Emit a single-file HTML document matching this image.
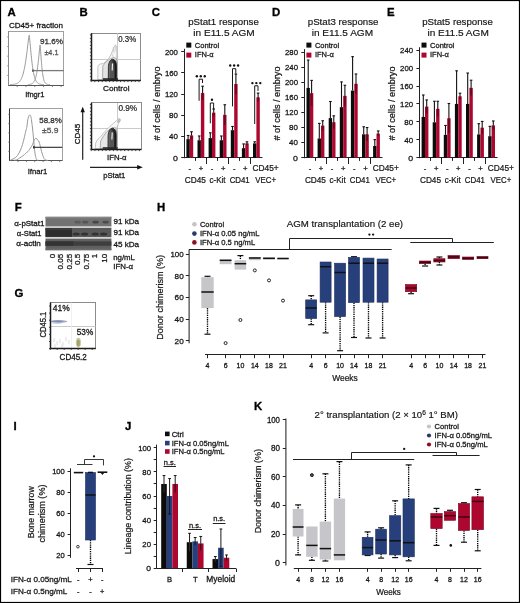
<!DOCTYPE html>
<html><head><meta charset="utf-8"><style>
html,body{margin:0;padding:0;background:#fff;width:520px;height:603px;overflow:hidden}
svg{display:block;font-family:"Liberation Sans", sans-serif;will-change:transform;filter:blur(0.3px)}
</style></head><body>
<svg width="520" height="603" viewBox="0 0 520 603">
<rect width="520" height="603" fill="#fff"/>
<text x="7.40" y="15.90" font-size="11.4" text-anchor="start" font-weight="bold" fill="#000" stroke="#000" stroke-width="0.32">A</text>
<text x="79.60" y="15.90" font-size="11.4" text-anchor="start" font-weight="bold" fill="#000" stroke="#000" stroke-width="0.32">B</text>
<text x="151.80" y="15.90" font-size="11.4" text-anchor="start" font-weight="bold" fill="#000" stroke="#000" stroke-width="0.32">C</text>
<text x="272.10" y="15.90" font-size="11.4" text-anchor="start" font-weight="bold" fill="#000" stroke="#000" stroke-width="0.32">D</text>
<text x="387.00" y="15.90" font-size="11.4" text-anchor="start" font-weight="bold" fill="#000" stroke="#000" stroke-width="0.32">E</text>
<text x="14.80" y="210.50" font-size="11.4" text-anchor="start" font-weight="bold" fill="#000" stroke="#000" stroke-width="0.32">F</text>
<text x="14.60" y="296.50" font-size="11.4" text-anchor="start" font-weight="bold" fill="#000" stroke="#000" stroke-width="0.32">G</text>
<text x="157.00" y="210.50" font-size="11.4" text-anchor="start" font-weight="bold" fill="#000" stroke="#000" stroke-width="0.32">H</text>
<text x="13.60" y="430.00" font-size="11.4" text-anchor="start" font-weight="bold" fill="#000" stroke="#000" stroke-width="0.32">I</text>
<text x="125.00" y="430.00" font-size="11.4" text-anchor="start" font-weight="bold" fill="#000" stroke="#000" stroke-width="0.32">J</text>
<text x="254.00" y="409.80" font-size="11.4" text-anchor="start" font-weight="bold" fill="#000" stroke="#000" stroke-width="0.32">K</text>
<text x="8.90" y="27.80" font-size="8.07" text-anchor="start" fill="#161616" stroke="#161616" stroke-width="0.28" textLength="54.09" lengthAdjust="spacingAndGlyphs">CD45+ fraction</text>
<rect x="8.50" y="31.50" width="55.00" height="54.00" fill="none" stroke="#a0a0a0" stroke-width="1"/>
<line x1="8.40" y1="85.50" x2="63.80" y2="85.50" stroke="#555" stroke-width="1"/>
<line x1="8.50" y1="31.20" x2="8.50" y2="85.00" stroke="#8a8a8a" stroke-width="1"/>
<line x1="7.20" y1="75.39" x2="8.50" y2="75.39" stroke="#777" stroke-width="0.8"/>
<line x1="7.20" y1="65.79" x2="8.50" y2="65.79" stroke="#777" stroke-width="0.8"/>
<line x1="7.20" y1="56.18" x2="8.50" y2="56.18" stroke="#777" stroke-width="0.8"/>
<line x1="7.20" y1="46.57" x2="8.50" y2="46.57" stroke="#777" stroke-width="0.8"/>
<line x1="7.20" y1="36.96" x2="8.50" y2="36.96" stroke="#777" stroke-width="0.8"/>
<line x1="17.19" y1="85.50" x2="17.19" y2="87.10" stroke="#666" stroke-width="0.8"/>
<line x1="25.99" y1="85.50" x2="25.99" y2="87.10" stroke="#666" stroke-width="0.8"/>
<line x1="34.78" y1="85.50" x2="34.78" y2="87.10" stroke="#666" stroke-width="0.8"/>
<line x1="43.57" y1="85.50" x2="43.57" y2="87.10" stroke="#666" stroke-width="0.8"/>
<line x1="52.37" y1="85.50" x2="52.37" y2="87.10" stroke="#666" stroke-width="0.8"/>
<line x1="61.16" y1="85.50" x2="61.16" y2="87.10" stroke="#666" stroke-width="0.8"/>
<path d="M10.00,84.54 L10.28,84.54 L10.57,84.53 L10.85,84.52 L11.13,84.51 L11.42,84.49 L11.70,84.48 L11.98,84.46 L12.27,84.44 L12.55,84.42 L12.83,84.40 L13.12,84.37 L13.40,84.34 L13.68,84.31 L13.97,84.27 L14.25,84.23 L14.53,84.18 L14.82,84.13 L15.10,84.07 L15.38,84.01 L15.67,83.93 L15.95,83.85 L16.23,83.76 L16.52,83.65 L16.80,83.54 L17.08,83.41 L17.37,83.27 L17.65,83.11 L17.93,82.94 L18.22,82.74 L18.50,82.53 L18.78,82.29 L19.07,82.02 L19.35,81.73 L19.63,81.41 L19.92,81.06 L20.20,80.67 L20.48,80.24 L20.77,79.77 L21.05,79.26 L21.33,78.70 L21.62,78.08 L21.90,77.41 L22.18,76.68 L22.47,75.88 L22.75,75.02 L23.03,74.08 L23.32,73.07 L23.60,71.97 L23.88,70.79 L24.17,69.53 L24.45,68.17 L24.73,66.71 L25.02,65.16 L25.30,63.50 L25.58,61.75 L25.87,59.90 L26.15,57.94 L26.43,55.90 L26.72,53.77 L27.00,51.56 L27.28,49.28 L27.57,46.95 L27.85,44.61 L28.13,42.27 L28.42,39.99 L28.70,37.85 L28.98,35.98 L29.27,35.31 L29.55,37.61 L29.83,40.48 L30.12,43.55 L30.40,46.68 L30.68,49.77 L30.97,52.78 L31.25,55.65 L31.53,58.37 L31.82,60.93 L32.10,63.30 L32.38,65.50 L32.67,67.52 L32.95,69.37 L33.23,71.06 L33.52,72.58 L33.80,73.97 L34.08,75.21 L34.37,76.33 L34.65,77.33 L34.93,78.22 L35.22,79.01 L35.50,79.71 L35.78,80.34 L36.07,80.89 L36.35,81.37 L36.63,81.80 L36.92,82.17 L37.20,82.50 L37.48,82.79 L37.77,83.04 L38.05,83.25 L38.33,83.44 L38.62,83.60 L38.90,83.75 L39.18,83.87 L39.47,83.97 L39.75,84.07 L40.03,84.14 L40.32,84.21 L40.60,84.27 L40.88,84.32 L41.17,84.36 L41.45,84.40 L41.73,84.43 L42.02,84.45 L42.30,84.48 L42.58,84.50 L42.87,84.51 L43.15,84.53 L43.43,84.54 L43.72,84.55 L44.00,84.56" fill="none" stroke="#9a9a9a" stroke-width="1.0"/>
<path d="M28.00,84.53 L28.18,84.53 L28.37,84.52 L28.55,84.50 L28.73,84.49 L28.92,84.48 L29.10,84.46 L29.28,84.44 L29.47,84.42 L29.65,84.40 L29.83,84.38 L30.02,84.35 L30.20,84.32 L30.38,84.28 L30.57,84.24 L30.75,84.19 L30.93,84.14 L31.12,84.09 L31.30,84.03 L31.48,83.96 L31.67,83.88 L31.85,83.79 L32.03,83.70 L32.22,83.59 L32.40,83.47 L32.58,83.34 L32.77,83.20 L32.95,83.04 L33.13,82.86 L33.32,82.66 L33.50,82.45 L33.68,82.21 L33.87,81.95 L34.05,81.66 L34.23,81.35 L34.42,81.00 L34.60,80.62 L34.78,80.21 L34.97,79.76 L35.15,79.26 L35.33,78.72 L35.52,78.14 L35.70,77.50 L35.88,76.82 L36.07,76.07 L36.25,75.27 L36.43,74.40 L36.62,73.47 L36.80,72.47 L36.98,71.39 L37.17,70.25 L37.35,69.03 L37.53,67.73 L37.72,66.35 L37.90,64.90 L38.08,63.37 L38.27,61.77 L38.45,60.11 L38.63,58.38 L38.82,56.60 L39.00,54.78 L39.18,52.94 L39.37,51.10 L39.55,49.31 L39.73,47.60 L39.92,46.08 L40.10,45.00 L40.28,46.63 L40.47,48.89 L40.65,51.36 L40.83,53.90 L41.02,56.43 L41.20,58.88 L41.38,61.23 L41.57,63.45 L41.75,65.53 L41.93,67.47 L42.12,69.27 L42.30,70.91 L42.48,72.42 L42.67,73.79 L42.85,75.03 L43.03,76.15 L43.22,77.15 L43.40,78.05 L43.58,78.86 L43.77,79.57 L43.95,80.21 L44.13,80.77 L44.32,81.27 L44.50,81.70 L44.68,82.09 L44.87,82.43 L45.05,82.72 L45.23,82.98 L45.42,83.20 L45.60,83.40 L45.78,83.57 L45.97,83.72 L46.15,83.84 L46.33,83.95 L46.52,84.05 L46.70,84.13 L46.88,84.20 L47.07,84.26 L47.25,84.31 L47.43,84.35 L47.62,84.39 L47.80,84.42 L47.98,84.45 L48.17,84.47 L48.35,84.49 L48.53,84.51 L48.72,84.52 L48.90,84.54 L49.08,84.55 L49.27,84.56 L49.45,84.56 L49.63,84.57 L49.82,84.57 L50.00,84.58" fill="none" stroke="#9a9a9a" stroke-width="1.0"/>
<line x1="32.60" y1="70.60" x2="63.80" y2="70.60" stroke="#7a7a7a" stroke-width="1.3"/>
<rect x="32.00" y="69.40" width="1.80" height="2.40" fill="#666"/>
<text x="63.00" y="44.40" font-size="8.07" text-anchor="end" fill="#333" stroke="#333" stroke-width="0.28" textLength="23.09" lengthAdjust="spacingAndGlyphs">91.6%</text>
<text x="58.40" y="54.80" font-size="8.07" text-anchor="end" fill="#555" stroke="#555" stroke-width="0.28" textLength="13.99" lengthAdjust="spacingAndGlyphs">±4.1</text>
<text x="25.20" y="96.50" font-size="8.07" text-anchor="start" fill="#161616" stroke="#161616" stroke-width="0.28" textLength="19.29" lengthAdjust="spacingAndGlyphs">Ifngr1</text>
<rect x="9.50" y="108.50" width="53.00" height="52.00" fill="none" stroke="#a0a0a0" stroke-width="1"/>
<line x1="9.80" y1="160.50" x2="62.20" y2="160.50" stroke="#555" stroke-width="1"/>
<line x1="9.50" y1="108.80" x2="9.50" y2="160.70" stroke="#333" stroke-width="1"/>
<line x1="8.20" y1="151.43" x2="9.50" y2="151.43" stroke="#777" stroke-width="0.8"/>
<line x1="8.20" y1="142.16" x2="9.50" y2="142.16" stroke="#777" stroke-width="0.8"/>
<line x1="8.20" y1="132.90" x2="9.50" y2="132.90" stroke="#777" stroke-width="0.8"/>
<line x1="8.20" y1="123.63" x2="9.50" y2="123.63" stroke="#777" stroke-width="0.8"/>
<line x1="8.20" y1="114.36" x2="9.50" y2="114.36" stroke="#777" stroke-width="0.8"/>
<line x1="18.12" y1="160.50" x2="18.12" y2="162.10" stroke="#666" stroke-width="0.8"/>
<line x1="26.43" y1="160.50" x2="26.43" y2="162.10" stroke="#666" stroke-width="0.8"/>
<line x1="34.75" y1="160.50" x2="34.75" y2="162.10" stroke="#666" stroke-width="0.8"/>
<line x1="43.07" y1="160.50" x2="43.07" y2="162.10" stroke="#666" stroke-width="0.8"/>
<line x1="51.39" y1="160.50" x2="51.39" y2="162.10" stroke="#666" stroke-width="0.8"/>
<line x1="59.70" y1="160.50" x2="59.70" y2="162.10" stroke="#666" stroke-width="0.8"/>
<path d="M10.30,160.20 C10.92,159.92 12.80,159.28 14.00,158.50 C15.20,157.72 16.42,156.92 17.50,155.50 C18.58,154.08 19.67,151.83 20.50,150.00 C21.33,148.17 21.88,146.50 22.50,144.50 C23.12,142.50 23.65,140.25 24.20,138.00 C24.75,135.75 25.37,132.75 25.80,131.00 C26.23,129.25 26.50,129.17 26.80,127.50 C27.10,125.83 27.30,122.83 27.60,121.00 C27.90,119.17 28.25,117.52 28.60,116.50 C28.95,115.48 29.33,114.93 29.70,114.90 C30.07,114.87 30.48,115.28 30.80,116.30 C31.12,117.32 31.32,119.05 31.60,121.00 C31.88,122.95 32.20,125.33 32.50,128.00 C32.80,130.67 33.10,133.83 33.40,137.00 C33.70,140.17 33.98,144.00 34.30,147.00 C34.62,150.00 34.92,152.90 35.30,155.00 C35.68,157.10 36.07,158.72 36.60,159.60 C37.13,160.48 38.18,160.18 38.50,160.30" fill="none" stroke="#9a9a9a" stroke-width="1.0"/>
<path d="M14.00,160.30 C14.50,160.22 16.08,160.18 17.00,159.80 C17.92,159.42 18.67,158.55 19.50,158.00 C20.33,157.45 21.17,157.08 22.00,156.50 C22.83,155.92 23.75,155.17 24.50,154.50 C25.25,153.83 25.92,153.00 26.50,152.50 C27.08,152.00 27.50,152.00 28.00,151.50 C28.50,151.00 29.00,150.25 29.50,149.50 C30.00,148.75 30.50,147.78 31.00,147.00 C31.50,146.22 32.03,145.80 32.50,144.80 C32.97,143.80 33.38,142.00 33.80,141.00 C34.22,140.00 34.55,139.23 35.00,138.80 C35.45,138.37 36.07,138.17 36.50,138.40 C36.93,138.63 37.25,139.80 37.60,140.20 C37.95,140.60 38.27,140.25 38.60,140.80 C38.93,141.35 39.27,142.38 39.60,143.50 C39.93,144.62 40.27,146.17 40.60,147.50 C40.93,148.83 41.23,150.17 41.60,151.50 C41.97,152.83 42.37,154.28 42.80,155.50 C43.23,156.72 43.67,158.02 44.20,158.80 C44.73,159.58 45.37,159.93 46.00,160.20 C46.63,160.47 47.67,160.37 48.00,160.40" fill="none" stroke="#9a9a9a" stroke-width="1.0"/>
<line x1="33.50" y1="147.30" x2="62.20" y2="147.30" stroke="#2a2a2a" stroke-width="1.1"/>
<rect x="33.00" y="146.10" width="1.60" height="2.40" fill="#333"/>
<text x="61.80" y="122.80" font-size="8.07" text-anchor="end" fill="#333" stroke="#333" stroke-width="0.28" textLength="22.59" lengthAdjust="spacingAndGlyphs">58.8%</text>
<text x="58.40" y="133.10" font-size="8.07" text-anchor="end" fill="#555" stroke="#555" stroke-width="0.28" textLength="16.39" lengthAdjust="spacingAndGlyphs">±5.9</text>
<text x="27.70" y="174.00" font-size="8.07" text-anchor="start" fill="#161616" stroke="#161616" stroke-width="0.28" textLength="19.69" lengthAdjust="spacingAndGlyphs">Ifnar1</text>
<rect x="91.50" y="33.50" width="49.00" height="47.00" fill="none" stroke="#8c8c8c" stroke-width="1"/>
<line x1="117.50" y1="33.20" x2="117.50" y2="80.10" stroke="#c4c4c4" stroke-width="0.9"/>
<line x1="91.20" y1="59.50" x2="140.80" y2="59.50" stroke="#c4c4c4" stroke-width="0.9"/>
<defs><filter id="fb" x="-20%" y="-20%" width="140%" height="140%"><feGaussianBlur stdDeviation="0.45"/></filter><linearGradient id="core" x1="0" x2="1"><stop offset="0" stop-color="#7a7a7a"/><stop offset="0.5" stop-color="#3a3a3a"/><stop offset="1" stop-color="#0e0e0e"/></linearGradient></defs>
<g filter="url(#fb)" transform="translate(0.00,0.00)"><path d="M97.8,79.6 L97.9,66 L99.5,64.2 L103.5,63.4 L106.5,60.8 L109,58 L111.5,53.5 L113.3,48.5 L115.2,45.2 L116.6,46.5 L116.9,53 L116.7,60 L117.6,68 L117.4,79.6 Z" fill="#f7f7f7" stroke="#a8a8a8" stroke-width="0.65"/><path d="M102.6,79.6 L102.8,66 L104.8,63.2 L107.5,60.6 L110.5,58.6 L113.5,57.6 L116.2,58.4 L117.2,63 L117.3,79.6 Z" fill="#e4e4e4" stroke="#8a8a8a" stroke-width="0.65"/><path d="M113.2,47 L114.2,53 M115.6,44.5 L115.1,51 M111.8,53.5 L113.2,57" stroke="#bbb" stroke-width="0.6" fill="none"/><path d="M108.3,79.6 L108.4,66.5 Q108.8,59.8 112.6,59.3 Q116.2,59.5 116.5,65.5 L116.4,79.6 Z" fill="url(#core)" stroke="#222" stroke-width="0.9"/><path d="M110.2,78.5 L110.3,67 Q110.6,62.6 112.6,62.3 Q114.3,62.6 114.5,67 L114.4,78.5 Z" fill="#555"/><path d="M112.5,63.5 L112.2,70.5" stroke="#f2f2f2" stroke-width="1.1" fill="none"/><rect x="103" y="78.2" width="15" height="1.6" fill="#2a2a2a"/></g>
<line x1="91.50" y1="33.20" x2="91.50" y2="80.60" stroke="#1c1c1c" stroke-width="1.5"/>
<line x1="91.20" y1="80.50" x2="140.80" y2="80.50" stroke="#1c1c1c" stroke-width="1.5"/>
<line x1="89.90" y1="80.10" x2="91.50" y2="80.10" stroke="#333" stroke-width="0.9"/>
<line x1="89.90" y1="76.63" x2="91.50" y2="76.63" stroke="#333" stroke-width="0.9"/>
<line x1="89.90" y1="73.15" x2="91.50" y2="73.15" stroke="#333" stroke-width="0.9"/>
<line x1="89.90" y1="69.68" x2="91.50" y2="69.68" stroke="#333" stroke-width="0.9"/>
<line x1="89.90" y1="66.20" x2="91.50" y2="66.20" stroke="#333" stroke-width="0.9"/>
<line x1="89.90" y1="62.73" x2="91.50" y2="62.73" stroke="#333" stroke-width="0.9"/>
<line x1="89.90" y1="59.26" x2="91.50" y2="59.26" stroke="#333" stroke-width="0.9"/>
<line x1="89.90" y1="55.78" x2="91.50" y2="55.78" stroke="#333" stroke-width="0.9"/>
<line x1="89.90" y1="52.31" x2="91.50" y2="52.31" stroke="#333" stroke-width="0.9"/>
<line x1="89.90" y1="48.83" x2="91.50" y2="48.83" stroke="#333" stroke-width="0.9"/>
<line x1="89.90" y1="45.36" x2="91.50" y2="45.36" stroke="#333" stroke-width="0.9"/>
<line x1="89.90" y1="41.89" x2="91.50" y2="41.89" stroke="#333" stroke-width="0.9"/>
<line x1="89.90" y1="38.41" x2="91.50" y2="38.41" stroke="#333" stroke-width="0.9"/>
<line x1="89.90" y1="34.94" x2="91.50" y2="34.94" stroke="#333" stroke-width="0.9"/>
<line x1="91.20" y1="80.50" x2="91.20" y2="82.10" stroke="#333" stroke-width="0.9"/>
<line x1="94.87" y1="80.50" x2="94.87" y2="82.10" stroke="#333" stroke-width="0.9"/>
<line x1="98.55" y1="80.50" x2="98.55" y2="82.10" stroke="#333" stroke-width="0.9"/>
<line x1="102.22" y1="80.50" x2="102.22" y2="82.10" stroke="#333" stroke-width="0.9"/>
<line x1="105.90" y1="80.50" x2="105.90" y2="82.10" stroke="#333" stroke-width="0.9"/>
<line x1="109.57" y1="80.50" x2="109.57" y2="82.10" stroke="#333" stroke-width="0.9"/>
<line x1="113.24" y1="80.50" x2="113.24" y2="82.10" stroke="#333" stroke-width="0.9"/>
<line x1="116.92" y1="80.50" x2="116.92" y2="82.10" stroke="#333" stroke-width="0.9"/>
<line x1="120.59" y1="80.50" x2="120.59" y2="82.10" stroke="#333" stroke-width="0.9"/>
<line x1="124.27" y1="80.50" x2="124.27" y2="82.10" stroke="#333" stroke-width="0.9"/>
<line x1="127.94" y1="80.50" x2="127.94" y2="82.10" stroke="#333" stroke-width="0.9"/>
<line x1="131.61" y1="80.50" x2="131.61" y2="82.10" stroke="#333" stroke-width="0.9"/>
<line x1="135.29" y1="80.50" x2="135.29" y2="82.10" stroke="#333" stroke-width="0.9"/>
<line x1="138.96" y1="80.50" x2="138.96" y2="82.10" stroke="#333" stroke-width="0.9"/>
<text x="118.20" y="41.60" font-size="8.61" text-anchor="start" fill="#1e1e1e" stroke="#1e1e1e" stroke-width="0.22" textLength="17.95" lengthAdjust="spacingAndGlyphs">0.3%</text>
<text x="103.00" y="90.80" font-size="8.07" text-anchor="start" fill="#161616" stroke="#161616" stroke-width="0.28" textLength="26.49" lengthAdjust="spacingAndGlyphs">Control</text>
<rect x="91.50" y="102.50" width="50.00" height="47.00" fill="none" stroke="#8c8c8c" stroke-width="1"/>
<line x1="117.50" y1="102.80" x2="117.50" y2="149.10" stroke="#c4c4c4" stroke-width="0.9"/>
<line x1="91.20" y1="128.50" x2="141.30" y2="128.50" stroke="#c4c4c4" stroke-width="0.9"/>
<g filter="url(#fb)" transform="translate(-0.30,69.00)"><path d="M95.5,79.6 L96,74 L98,70.5 L101,67.5 L104,64 L107,60.5 L110,57.5 L113.5,54.5 L117,51.5 L119.5,49.5 L120.5,51 L118.5,55 L117.2,59 L117.4,67 L117.2,79.6 Z" fill="#f7f7f7" stroke="#a8a8a8" stroke-width="0.65"/><path d="M100.5,79.6 L101,72 L103.5,67.5 L106.5,63.5 L109.5,60.5 L113,58.6 L116,58.8 L117.1,64 L117.1,79.6 Z" fill="#e6e6e6" stroke="#8a8a8a" stroke-width="0.65"/><ellipse cx="119.2" cy="51.8" rx="1.5" ry="2.4" fill="#bdbdbd" transform="rotate(35 119.2 51.8)"/><path d="M108.3,79.6 L108.4,66.5 Q108.8,59.8 112.6,59.3 Q116.2,59.5 116.5,65.5 L116.4,79.6 Z" fill="url(#core)" stroke="#222" stroke-width="0.9"/><path d="M110.2,78.5 L110.3,67 Q110.6,62.6 112.6,62.3 Q114.3,62.6 114.5,67 L114.4,78.5 Z" fill="#555"/><path d="M112.5,63.5 L112.2,70.5" stroke="#f2f2f2" stroke-width="1.1" fill="none"/><rect x="103" y="78.2" width="15" height="1.6" fill="#2a2a2a"/></g>
<line x1="91.50" y1="102.80" x2="91.50" y2="149.60" stroke="#1c1c1c" stroke-width="1.5"/>
<line x1="91.20" y1="149.50" x2="141.30" y2="149.50" stroke="#1c1c1c" stroke-width="1.5"/>
<line x1="89.90" y1="149.10" x2="91.50" y2="149.10" stroke="#333" stroke-width="0.9"/>
<line x1="89.90" y1="145.67" x2="91.50" y2="145.67" stroke="#333" stroke-width="0.9"/>
<line x1="89.90" y1="142.24" x2="91.50" y2="142.24" stroke="#333" stroke-width="0.9"/>
<line x1="89.90" y1="138.81" x2="91.50" y2="138.81" stroke="#333" stroke-width="0.9"/>
<line x1="89.90" y1="135.38" x2="91.50" y2="135.38" stroke="#333" stroke-width="0.9"/>
<line x1="89.90" y1="131.95" x2="91.50" y2="131.95" stroke="#333" stroke-width="0.9"/>
<line x1="89.90" y1="128.52" x2="91.50" y2="128.52" stroke="#333" stroke-width="0.9"/>
<line x1="89.90" y1="125.09" x2="91.50" y2="125.09" stroke="#333" stroke-width="0.9"/>
<line x1="89.90" y1="121.66" x2="91.50" y2="121.66" stroke="#333" stroke-width="0.9"/>
<line x1="89.90" y1="118.23" x2="91.50" y2="118.23" stroke="#333" stroke-width="0.9"/>
<line x1="89.90" y1="114.80" x2="91.50" y2="114.80" stroke="#333" stroke-width="0.9"/>
<line x1="89.90" y1="111.37" x2="91.50" y2="111.37" stroke="#333" stroke-width="0.9"/>
<line x1="89.90" y1="107.94" x2="91.50" y2="107.94" stroke="#333" stroke-width="0.9"/>
<line x1="89.90" y1="104.51" x2="91.50" y2="104.51" stroke="#333" stroke-width="0.9"/>
<line x1="91.20" y1="149.50" x2="91.20" y2="151.10" stroke="#333" stroke-width="0.9"/>
<line x1="94.91" y1="149.50" x2="94.91" y2="151.10" stroke="#333" stroke-width="0.9"/>
<line x1="98.62" y1="149.50" x2="98.62" y2="151.10" stroke="#333" stroke-width="0.9"/>
<line x1="102.33" y1="149.50" x2="102.33" y2="151.10" stroke="#333" stroke-width="0.9"/>
<line x1="106.04" y1="149.50" x2="106.04" y2="151.10" stroke="#333" stroke-width="0.9"/>
<line x1="109.76" y1="149.50" x2="109.76" y2="151.10" stroke="#333" stroke-width="0.9"/>
<line x1="113.47" y1="149.50" x2="113.47" y2="151.10" stroke="#333" stroke-width="0.9"/>
<line x1="117.18" y1="149.50" x2="117.18" y2="151.10" stroke="#333" stroke-width="0.9"/>
<line x1="120.89" y1="149.50" x2="120.89" y2="151.10" stroke="#333" stroke-width="0.9"/>
<line x1="124.60" y1="149.50" x2="124.60" y2="151.10" stroke="#333" stroke-width="0.9"/>
<line x1="128.31" y1="149.50" x2="128.31" y2="151.10" stroke="#333" stroke-width="0.9"/>
<line x1="132.02" y1="149.50" x2="132.02" y2="151.10" stroke="#333" stroke-width="0.9"/>
<line x1="135.73" y1="149.50" x2="135.73" y2="151.10" stroke="#333" stroke-width="0.9"/>
<line x1="139.44" y1="149.50" x2="139.44" y2="151.10" stroke="#333" stroke-width="0.9"/>
<text x="118.40" y="111.20" font-size="8.61" text-anchor="start" fill="#1e1e1e" stroke="#1e1e1e" stroke-width="0.22" textLength="18.75" lengthAdjust="spacingAndGlyphs">0.9%</text>
<text x="107.00" y="160.40" font-size="8.07" text-anchor="start" fill="#161616" stroke="#161616" stroke-width="0.28" textLength="19.59" lengthAdjust="spacingAndGlyphs">IFN-α</text>
<line x1="82.70" y1="112.00" x2="82.70" y2="159.80" stroke="#222" stroke-width="1.2"/>
<path d="M82.7,106.8 L80.5,112.3 L84.9,112.3 Z" fill="#111" stroke="none" stroke-width="1"/>
<text x="80.00" y="134.00" font-size="8.07" text-anchor="middle" fill="#161616" stroke="#161616" stroke-width="0.28" textLength="20.59" lengthAdjust="spacingAndGlyphs" transform="rotate(-90 80.00 134.00)">CD45</text>
<line x1="90.00" y1="167.30" x2="138.00" y2="167.30" stroke="#222" stroke-width="1.2"/>
<path d="M142.8,167.3 L137.2,165.1 L137.2,169.5 Z" fill="#111" stroke="none" stroke-width="1"/>
<text x="103.20" y="177.50" font-size="8.07" text-anchor="start" fill="#161616" stroke="#161616" stroke-width="0.28" textLength="22.19" lengthAdjust="spacingAndGlyphs">pStat1</text>
<text x="223.50" y="24.70" font-size="9.88" text-anchor="middle" fill="#161616" stroke="#161616" stroke-width="0.18" textLength="70.69" lengthAdjust="spacingAndGlyphs">pStat1 response</text>
<text x="224.00" y="36.00" font-size="9.88" text-anchor="middle" fill="#161616" stroke="#161616" stroke-width="0.18" textLength="61.39" lengthAdjust="spacingAndGlyphs">in E11.5 AGM</text>
<rect x="186.30" y="42.60" width="5.00" height="5.00" fill="#0c0c0c"/>
<text x="194.80" y="47.60" font-size="7.96" text-anchor="start" fill="#161616" stroke="#161616" stroke-width="0.28" textLength="24.28" lengthAdjust="spacingAndGlyphs">Control</text>
<rect x="186.30" y="52.60" width="5.00" height="5.00" fill="#ad062f"/>
<text x="194.80" y="56.80" font-size="7.96" text-anchor="start" fill="#161616" stroke="#161616" stroke-width="0.28" textLength="18.88" lengthAdjust="spacingAndGlyphs">IFN-α</text>
<line x1="184.50" y1="48.80" x2="184.50" y2="158.20" stroke="#222" stroke-width="1"/>
<line x1="181.20" y1="157.50" x2="184.40" y2="157.50" stroke="#222" stroke-width="1"/>
<text x="177.90" y="160.50" font-size="7.96" text-anchor="end" fill="#161616" stroke="#161616" stroke-width="0.28" textLength="4.88" lengthAdjust="spacingAndGlyphs">0</text>
<line x1="181.20" y1="136.50" x2="184.40" y2="136.50" stroke="#222" stroke-width="1"/>
<text x="177.90" y="139.32" font-size="7.96" text-anchor="end" fill="#161616" stroke="#161616" stroke-width="0.28" textLength="8.88" lengthAdjust="spacingAndGlyphs">40</text>
<line x1="181.20" y1="115.50" x2="184.40" y2="115.50" stroke="#222" stroke-width="1"/>
<text x="177.90" y="118.14" font-size="7.96" text-anchor="end" fill="#161616" stroke="#161616" stroke-width="0.28" textLength="8.88" lengthAdjust="spacingAndGlyphs">80</text>
<line x1="181.20" y1="94.50" x2="184.40" y2="94.50" stroke="#222" stroke-width="1"/>
<text x="177.90" y="96.96" font-size="7.96" text-anchor="end" fill="#161616" stroke="#161616" stroke-width="0.28" textLength="12.98" lengthAdjust="spacingAndGlyphs">120</text>
<line x1="181.20" y1="72.50" x2="184.40" y2="72.50" stroke="#222" stroke-width="1"/>
<text x="177.90" y="75.78" font-size="7.96" text-anchor="end" fill="#161616" stroke="#161616" stroke-width="0.28" textLength="12.98" lengthAdjust="spacingAndGlyphs">160</text>
<line x1="181.20" y1="51.50" x2="184.40" y2="51.50" stroke="#222" stroke-width="1"/>
<text x="177.90" y="54.60" font-size="7.96" text-anchor="end" fill="#161616" stroke="#161616" stroke-width="0.28" textLength="12.98" lengthAdjust="spacingAndGlyphs">200</text>
<text x="159.50" y="103.50" font-size="9.26" text-anchor="middle" fill="#161616" stroke="#161616" stroke-width="0.22" textLength="74.02" lengthAdjust="spacingAndGlyphs" transform="rotate(-90 159.50 103.50)"># of cells / embryo</text>
<line x1="184.40" y1="157.50" x2="262.40" y2="157.50" stroke="#222" stroke-width="1"/>
<line x1="195.50" y1="157.70" x2="195.50" y2="160.90" stroke="#222" stroke-width="1"/>
<line x1="206.50" y1="157.70" x2="206.50" y2="164.00" stroke="#222" stroke-width="1"/>
<line x1="217.50" y1="157.70" x2="217.50" y2="160.90" stroke="#222" stroke-width="1"/>
<line x1="228.50" y1="157.70" x2="228.50" y2="164.00" stroke="#222" stroke-width="1"/>
<line x1="239.50" y1="157.70" x2="239.50" y2="160.90" stroke="#222" stroke-width="1"/>
<line x1="250.50" y1="157.70" x2="250.50" y2="164.00" stroke="#222" stroke-width="1"/>
<rect x="186.40" y="139.17" width="3.40" height="18.53" fill="#0c0c0c"/>
<rect x="189.80" y="135.46" width="3.40" height="22.24" fill="#ad062f"/>
<line x1="188.10" y1="135.46" x2="188.10" y2="139.17" stroke="#111" stroke-width="1.1"/>
<line x1="186.80" y1="135.46" x2="189.40" y2="135.46" stroke="#111" stroke-width="1.1"/>
<line x1="191.50" y1="131.75" x2="191.50" y2="135.46" stroke="#111" stroke-width="1.1"/>
<line x1="190.20" y1="131.75" x2="192.80" y2="131.75" stroke="#111" stroke-width="1.1"/>
<line x1="191.50" y1="135.46" x2="191.50" y2="139.17" stroke="#6a0820" stroke-width="1.7"/>
<rect x="197.50" y="140.23" width="3.40" height="17.47" fill="#0c0c0c"/>
<rect x="200.90" y="93.10" width="3.40" height="64.60" fill="#ad062f"/>
<line x1="199.20" y1="135.99" x2="199.20" y2="140.23" stroke="#111" stroke-width="1.1"/>
<line x1="197.90" y1="135.99" x2="200.50" y2="135.99" stroke="#111" stroke-width="1.1"/>
<line x1="202.60" y1="86.22" x2="202.60" y2="93.10" stroke="#111" stroke-width="1.1"/>
<line x1="201.30" y1="86.22" x2="203.90" y2="86.22" stroke="#111" stroke-width="1.1"/>
<line x1="202.60" y1="93.10" x2="202.60" y2="99.98" stroke="#6a0820" stroke-width="1.7"/>
<rect x="208.60" y="138.11" width="3.40" height="19.59" fill="#0c0c0c"/>
<rect x="212.00" y="112.69" width="3.40" height="45.01" fill="#ad062f"/>
<line x1="210.30" y1="132.81" x2="210.30" y2="138.11" stroke="#111" stroke-width="1.1"/>
<line x1="209.00" y1="132.81" x2="211.60" y2="132.81" stroke="#111" stroke-width="1.1"/>
<line x1="213.70" y1="108.99" x2="213.70" y2="112.69" stroke="#111" stroke-width="1.1"/>
<line x1="212.40" y1="108.99" x2="215.00" y2="108.99" stroke="#111" stroke-width="1.1"/>
<line x1="213.70" y1="112.69" x2="213.70" y2="116.40" stroke="#6a0820" stroke-width="1.7"/>
<rect x="219.70" y="140.23" width="3.40" height="17.47" fill="#0c0c0c"/>
<rect x="223.10" y="114.81" width="3.40" height="42.89" fill="#ad062f"/>
<line x1="221.40" y1="135.99" x2="221.40" y2="140.23" stroke="#111" stroke-width="1.1"/>
<line x1="220.10" y1="135.99" x2="222.70" y2="135.99" stroke="#111" stroke-width="1.1"/>
<line x1="224.80" y1="104.75" x2="224.80" y2="114.81" stroke="#111" stroke-width="1.1"/>
<line x1="223.50" y1="104.75" x2="226.10" y2="104.75" stroke="#111" stroke-width="1.1"/>
<line x1="224.80" y1="114.81" x2="224.80" y2="124.87" stroke="#6a0820" stroke-width="1.7"/>
<rect x="230.80" y="130.17" width="3.40" height="27.53" fill="#0c0c0c"/>
<rect x="234.20" y="84.10" width="3.40" height="73.60" fill="#ad062f"/>
<line x1="232.50" y1="126.46" x2="232.50" y2="130.17" stroke="#111" stroke-width="1.1"/>
<line x1="231.20" y1="126.46" x2="233.80" y2="126.46" stroke="#111" stroke-width="1.1"/>
<line x1="235.90" y1="74.04" x2="235.90" y2="84.10" stroke="#111" stroke-width="1.1"/>
<line x1="234.60" y1="74.04" x2="237.20" y2="74.04" stroke="#111" stroke-width="1.1"/>
<line x1="235.90" y1="84.10" x2="235.90" y2="94.16" stroke="#6a0820" stroke-width="1.7"/>
<rect x="241.90" y="148.17" width="3.40" height="9.53" fill="#0c0c0c"/>
<rect x="245.30" y="143.40" width="3.40" height="14.30" fill="#ad062f"/>
<line x1="243.60" y1="143.93" x2="243.60" y2="148.17" stroke="#111" stroke-width="1.1"/>
<line x1="242.30" y1="143.93" x2="244.90" y2="143.93" stroke="#111" stroke-width="1.1"/>
<line x1="247.00" y1="141.81" x2="247.00" y2="143.40" stroke="#111" stroke-width="1.1"/>
<line x1="245.70" y1="141.81" x2="248.30" y2="141.81" stroke="#111" stroke-width="1.1"/>
<line x1="247.00" y1="143.40" x2="247.00" y2="144.99" stroke="#6a0820" stroke-width="1.7"/>
<rect x="253.00" y="143.40" width="3.40" height="14.30" fill="#0c0c0c"/>
<rect x="256.40" y="97.34" width="3.40" height="60.36" fill="#ad062f"/>
<line x1="254.70" y1="141.81" x2="254.70" y2="143.40" stroke="#111" stroke-width="1.1"/>
<line x1="253.40" y1="141.81" x2="256.00" y2="141.81" stroke="#111" stroke-width="1.1"/>
<line x1="258.10" y1="93.10" x2="258.10" y2="97.34" stroke="#111" stroke-width="1.1"/>
<line x1="256.80" y1="93.10" x2="259.40" y2="93.10" stroke="#111" stroke-width="1.1"/>
<line x1="258.10" y1="97.34" x2="258.10" y2="101.57" stroke="#6a0820" stroke-width="1.7"/>
<text x="189.80" y="171.40" font-size="7.6" text-anchor="middle" fill="#161616" stroke="#161616" stroke-width="0.28">-</text>
<text x="200.90" y="171.40" font-size="7.6" text-anchor="middle" fill="#161616" stroke="#161616" stroke-width="0.28">+</text>
<text x="212.00" y="171.40" font-size="7.6" text-anchor="middle" fill="#161616" stroke="#161616" stroke-width="0.28">-</text>
<text x="223.10" y="171.40" font-size="7.6" text-anchor="middle" fill="#161616" stroke="#161616" stroke-width="0.28">+</text>
<text x="234.20" y="171.40" font-size="7.6" text-anchor="middle" fill="#161616" stroke="#161616" stroke-width="0.28">-</text>
<text x="245.30" y="171.40" font-size="7.6" text-anchor="middle" fill="#161616" stroke="#161616" stroke-width="0.28">+</text>
<text x="252.60" y="171.00" font-size="8.5" text-anchor="start" fill="#161616" stroke="#161616" stroke-width="0.22" textLength="26.13" lengthAdjust="spacingAndGlyphs">CD45+</text>
<text x="195.30" y="183.00" font-size="8.5" text-anchor="middle" fill="#161616" stroke="#161616" stroke-width="0.22" textLength="21.04" lengthAdjust="spacingAndGlyphs">CD45</text>
<text x="217.50" y="183.00" font-size="8.5" text-anchor="middle" fill="#161616" stroke="#161616" stroke-width="0.22" textLength="16.04" lengthAdjust="spacingAndGlyphs">c-Kit</text>
<text x="239.70" y="183.00" font-size="8.5" text-anchor="middle" fill="#161616" stroke="#161616" stroke-width="0.22" textLength="20.13" lengthAdjust="spacingAndGlyphs">CD41</text>
<text x="265.70" y="183.00" font-size="8.5" text-anchor="middle" fill="#161616" stroke="#161616" stroke-width="0.22" textLength="20.73" lengthAdjust="spacingAndGlyphs">VEC+</text>
<path d="M199.10,100.80 L199.10,79.20 L202.50,79.20 L202.50,83.00" fill="none" stroke="#1a1a1a" stroke-width="1.0"/>
<circle cx="196.85" cy="76.30" r="1.20" fill="#111" stroke="none" stroke-width="1"/>
<circle cx="200.80" cy="76.30" r="1.20" fill="#111" stroke="none" stroke-width="1"/>
<circle cx="204.75" cy="76.30" r="1.20" fill="#111" stroke="none" stroke-width="1"/>
<path d="M210.30,123.30 L210.30,103.00 L213.60,103.00 L213.60,109.00" fill="none" stroke="#1a1a1a" stroke-width="1.0"/>
<circle cx="211.95" cy="99.80" r="1.20" fill="#111" stroke="none" stroke-width="1"/>
<path d="M232.50,106.40 L232.50,68.70 L235.80,68.70 L235.80,73.50" fill="none" stroke="#1a1a1a" stroke-width="1.0"/>
<circle cx="230.20" cy="65.50" r="1.20" fill="#111" stroke="none" stroke-width="1"/>
<circle cx="234.15" cy="65.50" r="1.20" fill="#111" stroke="none" stroke-width="1"/>
<circle cx="238.10" cy="65.50" r="1.20" fill="#111" stroke="none" stroke-width="1"/>
<path d="M254.70,124.00 L254.70,85.80 L258.00,85.80 L258.00,91.00" fill="none" stroke="#1a1a1a" stroke-width="1.0"/>
<circle cx="252.40" cy="83.10" r="1.20" fill="#111" stroke="none" stroke-width="1"/>
<circle cx="256.35" cy="83.10" r="1.20" fill="#111" stroke="none" stroke-width="1"/>
<circle cx="260.30" cy="83.10" r="1.20" fill="#111" stroke="none" stroke-width="1"/>
<text x="343.10" y="24.70" font-size="9.88" text-anchor="middle" fill="#161616" stroke="#161616" stroke-width="0.18" textLength="70.69" lengthAdjust="spacingAndGlyphs">pStat3 response</text>
<text x="342.40" y="36.00" font-size="9.88" text-anchor="middle" fill="#161616" stroke="#161616" stroke-width="0.18" textLength="61.39" lengthAdjust="spacingAndGlyphs">in E11.5 AGM</text>
<rect x="306.40" y="42.60" width="5.00" height="5.00" fill="#0c0c0c"/>
<text x="314.90" y="47.60" font-size="7.96" text-anchor="start" fill="#161616" stroke="#161616" stroke-width="0.28" textLength="24.28" lengthAdjust="spacingAndGlyphs">Control</text>
<rect x="306.40" y="52.60" width="5.00" height="5.00" fill="#ad062f"/>
<text x="314.90" y="56.80" font-size="7.96" text-anchor="start" fill="#161616" stroke="#161616" stroke-width="0.28" textLength="18.88" lengthAdjust="spacingAndGlyphs">IFN-α</text>
<line x1="304.50" y1="49.10" x2="304.50" y2="158.20" stroke="#222" stroke-width="1"/>
<line x1="301.30" y1="157.50" x2="304.50" y2="157.50" stroke="#222" stroke-width="1"/>
<text x="298.00" y="160.50" font-size="7.96" text-anchor="end" fill="#161616" stroke="#161616" stroke-width="0.28" textLength="4.88" lengthAdjust="spacingAndGlyphs">0</text>
<line x1="301.30" y1="142.50" x2="304.50" y2="142.50" stroke="#222" stroke-width="1"/>
<text x="298.00" y="145.41" font-size="7.96" text-anchor="end" fill="#161616" stroke="#161616" stroke-width="0.28" textLength="8.88" lengthAdjust="spacingAndGlyphs">40</text>
<line x1="301.30" y1="127.50" x2="304.50" y2="127.50" stroke="#222" stroke-width="1"/>
<text x="298.00" y="130.33" font-size="7.96" text-anchor="end" fill="#161616" stroke="#161616" stroke-width="0.28" textLength="8.88" lengthAdjust="spacingAndGlyphs">80</text>
<line x1="301.30" y1="112.50" x2="304.50" y2="112.50" stroke="#222" stroke-width="1"/>
<text x="298.00" y="115.24" font-size="7.96" text-anchor="end" fill="#161616" stroke="#161616" stroke-width="0.28" textLength="12.98" lengthAdjust="spacingAndGlyphs">120</text>
<line x1="301.30" y1="97.50" x2="304.50" y2="97.50" stroke="#222" stroke-width="1"/>
<text x="298.00" y="100.16" font-size="7.96" text-anchor="end" fill="#161616" stroke="#161616" stroke-width="0.28" textLength="12.98" lengthAdjust="spacingAndGlyphs">160</text>
<line x1="301.30" y1="82.50" x2="304.50" y2="82.50" stroke="#222" stroke-width="1"/>
<text x="298.00" y="85.07" font-size="7.96" text-anchor="end" fill="#161616" stroke="#161616" stroke-width="0.28" textLength="12.98" lengthAdjust="spacingAndGlyphs">200</text>
<line x1="301.30" y1="67.50" x2="304.50" y2="67.50" stroke="#222" stroke-width="1"/>
<text x="298.00" y="69.99" font-size="7.96" text-anchor="end" fill="#161616" stroke="#161616" stroke-width="0.28" textLength="12.98" lengthAdjust="spacingAndGlyphs">240</text>
<line x1="301.30" y1="52.50" x2="304.50" y2="52.50" stroke="#222" stroke-width="1"/>
<text x="298.00" y="54.90" font-size="7.96" text-anchor="end" fill="#161616" stroke="#161616" stroke-width="0.28" textLength="12.98" lengthAdjust="spacingAndGlyphs">280</text>
<text x="279.60" y="103.50" font-size="9.26" text-anchor="middle" fill="#161616" stroke="#161616" stroke-width="0.22" textLength="74.02" lengthAdjust="spacingAndGlyphs" transform="rotate(-90 279.60 103.50)"># of cells / embryo</text>
<line x1="304.50" y1="157.50" x2="382.50" y2="157.50" stroke="#222" stroke-width="1"/>
<line x1="315.50" y1="157.70" x2="315.50" y2="160.90" stroke="#222" stroke-width="1"/>
<line x1="326.50" y1="157.70" x2="326.50" y2="164.00" stroke="#222" stroke-width="1"/>
<line x1="337.50" y1="157.70" x2="337.50" y2="160.90" stroke="#222" stroke-width="1"/>
<line x1="348.50" y1="157.70" x2="348.50" y2="164.00" stroke="#222" stroke-width="1"/>
<line x1="359.50" y1="157.70" x2="359.50" y2="160.90" stroke="#222" stroke-width="1"/>
<line x1="370.50" y1="157.70" x2="370.50" y2="164.00" stroke="#222" stroke-width="1"/>
<rect x="306.50" y="87.93" width="3.40" height="69.77" fill="#0c0c0c"/>
<rect x="309.90" y="93.21" width="3.40" height="64.49" fill="#ad062f"/>
<line x1="308.20" y1="60.02" x2="308.20" y2="87.93" stroke="#111" stroke-width="1.1"/>
<line x1="306.90" y1="60.02" x2="309.50" y2="60.02" stroke="#111" stroke-width="1.1"/>
<line x1="311.60" y1="80.39" x2="311.60" y2="93.21" stroke="#111" stroke-width="1.1"/>
<line x1="310.30" y1="80.39" x2="312.90" y2="80.39" stroke="#111" stroke-width="1.1"/>
<line x1="311.60" y1="93.21" x2="311.60" y2="106.03" stroke="#6a0820" stroke-width="1.7"/>
<rect x="317.60" y="138.47" width="3.40" height="19.23" fill="#0c0c0c"/>
<rect x="321.00" y="125.64" width="3.40" height="32.06" fill="#ad062f"/>
<line x1="319.30" y1="123.38" x2="319.30" y2="138.47" stroke="#111" stroke-width="1.1"/>
<line x1="318.00" y1="123.38" x2="320.60" y2="123.38" stroke="#111" stroke-width="1.1"/>
<line x1="322.70" y1="120.74" x2="322.70" y2="125.64" stroke="#111" stroke-width="1.1"/>
<line x1="321.40" y1="120.74" x2="324.00" y2="120.74" stroke="#111" stroke-width="1.1"/>
<line x1="322.70" y1="125.64" x2="322.70" y2="130.55" stroke="#6a0820" stroke-width="1.7"/>
<rect x="328.70" y="118.10" width="3.40" height="39.60" fill="#0c0c0c"/>
<rect x="332.10" y="122.25" width="3.40" height="35.45" fill="#ad062f"/>
<line x1="330.40" y1="101.51" x2="330.40" y2="118.10" stroke="#111" stroke-width="1.1"/>
<line x1="329.10" y1="101.51" x2="331.70" y2="101.51" stroke="#111" stroke-width="1.1"/>
<line x1="333.80" y1="115.84" x2="333.80" y2="122.25" stroke="#111" stroke-width="1.1"/>
<line x1="332.50" y1="115.84" x2="335.10" y2="115.84" stroke="#111" stroke-width="1.1"/>
<line x1="333.80" y1="122.25" x2="333.80" y2="128.66" stroke="#6a0820" stroke-width="1.7"/>
<rect x="339.80" y="107.16" width="3.40" height="50.54" fill="#0c0c0c"/>
<rect x="343.20" y="95.85" width="3.40" height="61.85" fill="#ad062f"/>
<line x1="341.50" y1="81.89" x2="341.50" y2="107.16" stroke="#111" stroke-width="1.1"/>
<line x1="340.20" y1="81.89" x2="342.80" y2="81.89" stroke="#111" stroke-width="1.1"/>
<line x1="344.90" y1="85.29" x2="344.90" y2="95.85" stroke="#111" stroke-width="1.1"/>
<line x1="343.60" y1="85.29" x2="346.20" y2="85.29" stroke="#111" stroke-width="1.1"/>
<line x1="344.90" y1="95.85" x2="344.90" y2="106.41" stroke="#6a0820" stroke-width="1.7"/>
<rect x="350.90" y="90.57" width="3.40" height="67.13" fill="#0c0c0c"/>
<rect x="354.30" y="83.78" width="3.40" height="73.92" fill="#ad062f"/>
<line x1="352.60" y1="56.63" x2="352.60" y2="90.57" stroke="#111" stroke-width="1.1"/>
<line x1="351.30" y1="56.63" x2="353.90" y2="56.63" stroke="#111" stroke-width="1.1"/>
<line x1="356.00" y1="73.97" x2="356.00" y2="83.78" stroke="#111" stroke-width="1.1"/>
<line x1="354.70" y1="73.97" x2="357.30" y2="73.97" stroke="#111" stroke-width="1.1"/>
<line x1="356.00" y1="83.78" x2="356.00" y2="93.59" stroke="#6a0820" stroke-width="1.7"/>
<rect x="362.00" y="134.32" width="3.40" height="23.38" fill="#0c0c0c"/>
<rect x="365.40" y="134.32" width="3.40" height="23.38" fill="#ad062f"/>
<line x1="363.70" y1="126.77" x2="363.70" y2="134.32" stroke="#111" stroke-width="1.1"/>
<line x1="362.40" y1="126.77" x2="365.00" y2="126.77" stroke="#111" stroke-width="1.1"/>
<line x1="367.10" y1="127.53" x2="367.10" y2="134.32" stroke="#111" stroke-width="1.1"/>
<line x1="365.80" y1="127.53" x2="368.40" y2="127.53" stroke="#111" stroke-width="1.1"/>
<line x1="367.10" y1="134.32" x2="367.10" y2="141.11" stroke="#6a0820" stroke-width="1.7"/>
<rect x="373.10" y="146.01" width="3.40" height="11.69" fill="#0c0c0c"/>
<rect x="376.50" y="133.56" width="3.40" height="24.14" fill="#ad062f"/>
<line x1="374.80" y1="139.60" x2="374.80" y2="146.01" stroke="#111" stroke-width="1.1"/>
<line x1="373.50" y1="139.60" x2="376.10" y2="139.60" stroke="#111" stroke-width="1.1"/>
<line x1="378.20" y1="130.92" x2="378.20" y2="133.56" stroke="#111" stroke-width="1.1"/>
<line x1="376.90" y1="130.92" x2="379.50" y2="130.92" stroke="#111" stroke-width="1.1"/>
<line x1="378.20" y1="133.56" x2="378.20" y2="136.20" stroke="#6a0820" stroke-width="1.7"/>
<text x="309.90" y="171.40" font-size="7.6" text-anchor="middle" fill="#161616" stroke="#161616" stroke-width="0.28">-</text>
<text x="321.00" y="171.40" font-size="7.6" text-anchor="middle" fill="#161616" stroke="#161616" stroke-width="0.28">+</text>
<text x="332.10" y="171.40" font-size="7.6" text-anchor="middle" fill="#161616" stroke="#161616" stroke-width="0.28">-</text>
<text x="343.20" y="171.40" font-size="7.6" text-anchor="middle" fill="#161616" stroke="#161616" stroke-width="0.28">+</text>
<text x="354.30" y="171.40" font-size="7.6" text-anchor="middle" fill="#161616" stroke="#161616" stroke-width="0.28">-</text>
<text x="365.40" y="171.40" font-size="7.6" text-anchor="middle" fill="#161616" stroke="#161616" stroke-width="0.28">+</text>
<text x="372.70" y="171.00" font-size="8.5" text-anchor="start" fill="#161616" stroke="#161616" stroke-width="0.22" textLength="26.13" lengthAdjust="spacingAndGlyphs">CD45+</text>
<text x="315.40" y="183.00" font-size="8.5" text-anchor="middle" fill="#161616" stroke="#161616" stroke-width="0.22" textLength="21.04" lengthAdjust="spacingAndGlyphs">CD45</text>
<text x="337.60" y="183.00" font-size="8.5" text-anchor="middle" fill="#161616" stroke="#161616" stroke-width="0.22" textLength="16.04" lengthAdjust="spacingAndGlyphs">c-Kit</text>
<text x="359.80" y="183.00" font-size="8.5" text-anchor="middle" fill="#161616" stroke="#161616" stroke-width="0.22" textLength="20.13" lengthAdjust="spacingAndGlyphs">CD41</text>
<text x="385.80" y="183.00" font-size="8.5" text-anchor="middle" fill="#161616" stroke="#161616" stroke-width="0.22" textLength="20.73" lengthAdjust="spacingAndGlyphs">VEC+</text>
<text x="457.50" y="24.70" font-size="9.88" text-anchor="middle" fill="#161616" stroke="#161616" stroke-width="0.18" textLength="70.69" lengthAdjust="spacingAndGlyphs">pStat5 response</text>
<text x="458.10" y="36.00" font-size="9.88" text-anchor="middle" fill="#161616" stroke="#161616" stroke-width="0.18" textLength="61.39" lengthAdjust="spacingAndGlyphs">in E11.5 AGM</text>
<rect x="421.50" y="42.60" width="5.00" height="5.00" fill="#0c0c0c"/>
<text x="430.00" y="47.60" font-size="7.96" text-anchor="start" fill="#161616" stroke="#161616" stroke-width="0.28" textLength="24.28" lengthAdjust="spacingAndGlyphs">Control</text>
<rect x="421.50" y="52.60" width="5.00" height="5.00" fill="#ad062f"/>
<text x="430.00" y="56.80" font-size="7.96" text-anchor="start" fill="#161616" stroke="#161616" stroke-width="0.28" textLength="18.88" lengthAdjust="spacingAndGlyphs">IFN-α</text>
<line x1="419.50" y1="47.20" x2="419.50" y2="158.20" stroke="#222" stroke-width="1"/>
<line x1="416.40" y1="157.50" x2="419.60" y2="157.50" stroke="#222" stroke-width="1"/>
<text x="413.10" y="160.50" font-size="7.96" text-anchor="end" fill="#161616" stroke="#161616" stroke-width="0.28" textLength="4.88" lengthAdjust="spacingAndGlyphs">0</text>
<line x1="416.40" y1="139.50" x2="419.60" y2="139.50" stroke="#222" stroke-width="1"/>
<text x="413.10" y="142.58" font-size="7.96" text-anchor="end" fill="#161616" stroke="#161616" stroke-width="0.28" textLength="8.88" lengthAdjust="spacingAndGlyphs">40</text>
<line x1="416.40" y1="121.50" x2="419.60" y2="121.50" stroke="#222" stroke-width="1"/>
<text x="413.10" y="124.67" font-size="7.96" text-anchor="end" fill="#161616" stroke="#161616" stroke-width="0.28" textLength="8.88" lengthAdjust="spacingAndGlyphs">80</text>
<line x1="416.40" y1="103.50" x2="419.60" y2="103.50" stroke="#222" stroke-width="1"/>
<text x="413.10" y="106.75" font-size="7.96" text-anchor="end" fill="#161616" stroke="#161616" stroke-width="0.28" textLength="12.98" lengthAdjust="spacingAndGlyphs">120</text>
<line x1="416.40" y1="86.50" x2="419.60" y2="86.50" stroke="#222" stroke-width="1"/>
<text x="413.10" y="88.83" font-size="7.96" text-anchor="end" fill="#161616" stroke="#161616" stroke-width="0.28" textLength="12.98" lengthAdjust="spacingAndGlyphs">160</text>
<line x1="416.40" y1="68.50" x2="419.60" y2="68.50" stroke="#222" stroke-width="1"/>
<text x="413.10" y="70.92" font-size="7.96" text-anchor="end" fill="#161616" stroke="#161616" stroke-width="0.28" textLength="12.98" lengthAdjust="spacingAndGlyphs">200</text>
<line x1="416.40" y1="50.50" x2="419.60" y2="50.50" stroke="#222" stroke-width="1"/>
<text x="413.10" y="53.00" font-size="7.96" text-anchor="end" fill="#161616" stroke="#161616" stroke-width="0.28" textLength="12.98" lengthAdjust="spacingAndGlyphs">240</text>
<text x="394.70" y="103.50" font-size="9.26" text-anchor="middle" fill="#161616" stroke="#161616" stroke-width="0.22" textLength="74.02" lengthAdjust="spacingAndGlyphs" transform="rotate(-90 394.70 103.50)"># of cells / embryo</text>
<line x1="419.60" y1="157.50" x2="497.60" y2="157.50" stroke="#222" stroke-width="1"/>
<line x1="430.50" y1="157.70" x2="430.50" y2="160.90" stroke="#222" stroke-width="1"/>
<line x1="441.50" y1="157.70" x2="441.50" y2="164.00" stroke="#222" stroke-width="1"/>
<line x1="452.50" y1="157.70" x2="452.50" y2="160.90" stroke="#222" stroke-width="1"/>
<line x1="463.50" y1="157.70" x2="463.50" y2="164.00" stroke="#222" stroke-width="1"/>
<line x1="474.50" y1="157.70" x2="474.50" y2="160.90" stroke="#222" stroke-width="1"/>
<line x1="485.50" y1="157.70" x2="485.50" y2="164.00" stroke="#222" stroke-width="1"/>
<rect x="421.60" y="116.94" width="3.40" height="40.76" fill="#0c0c0c"/>
<rect x="425.00" y="106.64" width="3.40" height="51.06" fill="#ad062f"/>
<line x1="423.30" y1="94.99" x2="423.30" y2="116.94" stroke="#111" stroke-width="1.1"/>
<line x1="422.00" y1="94.99" x2="424.60" y2="94.99" stroke="#111" stroke-width="1.1"/>
<line x1="426.70" y1="99.92" x2="426.70" y2="106.64" stroke="#111" stroke-width="1.1"/>
<line x1="425.40" y1="99.92" x2="428.00" y2="99.92" stroke="#111" stroke-width="1.1"/>
<line x1="426.70" y1="106.64" x2="426.70" y2="113.36" stroke="#6a0820" stroke-width="1.7"/>
<rect x="432.70" y="122.31" width="3.40" height="35.39" fill="#0c0c0c"/>
<rect x="436.10" y="108.88" width="3.40" height="48.82" fill="#ad062f"/>
<line x1="434.40" y1="101.26" x2="434.40" y2="122.31" stroke="#111" stroke-width="1.1"/>
<line x1="433.10" y1="101.26" x2="435.70" y2="101.26" stroke="#111" stroke-width="1.1"/>
<line x1="437.80" y1="101.26" x2="437.80" y2="108.88" stroke="#111" stroke-width="1.1"/>
<line x1="436.50" y1="101.26" x2="439.10" y2="101.26" stroke="#111" stroke-width="1.1"/>
<line x1="437.80" y1="108.88" x2="437.80" y2="116.49" stroke="#6a0820" stroke-width="1.7"/>
<rect x="443.80" y="134.86" width="3.40" height="22.84" fill="#0c0c0c"/>
<rect x="447.20" y="118.28" width="3.40" height="39.42" fill="#ad062f"/>
<line x1="445.50" y1="125.45" x2="445.50" y2="134.86" stroke="#111" stroke-width="1.1"/>
<line x1="444.20" y1="125.45" x2="446.80" y2="125.45" stroke="#111" stroke-width="1.1"/>
<line x1="448.90" y1="103.50" x2="448.90" y2="118.28" stroke="#111" stroke-width="1.1"/>
<line x1="447.60" y1="103.50" x2="450.20" y2="103.50" stroke="#111" stroke-width="1.1"/>
<line x1="448.90" y1="118.28" x2="448.90" y2="133.06" stroke="#6a0820" stroke-width="1.7"/>
<rect x="454.90" y="103.95" width="3.40" height="53.75" fill="#0c0c0c"/>
<rect x="458.30" y="96.34" width="3.40" height="61.36" fill="#ad062f"/>
<line x1="456.60" y1="70.80" x2="456.60" y2="103.95" stroke="#111" stroke-width="1.1"/>
<line x1="455.30" y1="70.80" x2="457.90" y2="70.80" stroke="#111" stroke-width="1.1"/>
<line x1="460.00" y1="93.20" x2="460.00" y2="96.34" stroke="#111" stroke-width="1.1"/>
<line x1="458.70" y1="93.20" x2="461.30" y2="93.20" stroke="#111" stroke-width="1.1"/>
<line x1="460.00" y1="96.34" x2="460.00" y2="99.47" stroke="#6a0820" stroke-width="1.7"/>
<rect x="466.00" y="103.95" width="3.40" height="53.75" fill="#0c0c0c"/>
<rect x="469.40" y="87.82" width="3.40" height="69.88" fill="#ad062f"/>
<line x1="467.70" y1="73.04" x2="467.70" y2="103.95" stroke="#111" stroke-width="1.1"/>
<line x1="466.40" y1="73.04" x2="469.00" y2="73.04" stroke="#111" stroke-width="1.1"/>
<line x1="471.10" y1="80.21" x2="471.10" y2="87.82" stroke="#111" stroke-width="1.1"/>
<line x1="469.80" y1="80.21" x2="472.40" y2="80.21" stroke="#111" stroke-width="1.1"/>
<line x1="471.10" y1="87.82" x2="471.10" y2="95.44" stroke="#6a0820" stroke-width="1.7"/>
<rect x="477.10" y="134.41" width="3.40" height="23.29" fill="#0c0c0c"/>
<rect x="480.50" y="127.69" width="3.40" height="30.01" fill="#ad062f"/>
<line x1="478.80" y1="123.66" x2="478.80" y2="134.41" stroke="#111" stroke-width="1.1"/>
<line x1="477.50" y1="123.66" x2="480.10" y2="123.66" stroke="#111" stroke-width="1.1"/>
<line x1="482.20" y1="121.42" x2="482.20" y2="127.69" stroke="#111" stroke-width="1.1"/>
<line x1="480.90" y1="121.42" x2="483.50" y2="121.42" stroke="#111" stroke-width="1.1"/>
<line x1="482.20" y1="127.69" x2="482.20" y2="133.96" stroke="#6a0820" stroke-width="1.7"/>
<rect x="488.20" y="136.20" width="3.40" height="21.50" fill="#0c0c0c"/>
<rect x="491.60" y="125.45" width="3.40" height="32.25" fill="#ad062f"/>
<line x1="489.90" y1="126.35" x2="489.90" y2="136.20" stroke="#111" stroke-width="1.1"/>
<line x1="488.60" y1="126.35" x2="491.20" y2="126.35" stroke="#111" stroke-width="1.1"/>
<line x1="493.30" y1="120.97" x2="493.30" y2="125.45" stroke="#111" stroke-width="1.1"/>
<line x1="492.00" y1="120.97" x2="494.60" y2="120.97" stroke="#111" stroke-width="1.1"/>
<line x1="493.30" y1="125.45" x2="493.30" y2="129.93" stroke="#6a0820" stroke-width="1.7"/>
<text x="425.00" y="171.40" font-size="7.6" text-anchor="middle" fill="#161616" stroke="#161616" stroke-width="0.28">-</text>
<text x="436.10" y="171.40" font-size="7.6" text-anchor="middle" fill="#161616" stroke="#161616" stroke-width="0.28">+</text>
<text x="447.20" y="171.40" font-size="7.6" text-anchor="middle" fill="#161616" stroke="#161616" stroke-width="0.28">-</text>
<text x="458.30" y="171.40" font-size="7.6" text-anchor="middle" fill="#161616" stroke="#161616" stroke-width="0.28">+</text>
<text x="469.40" y="171.40" font-size="7.6" text-anchor="middle" fill="#161616" stroke="#161616" stroke-width="0.28">-</text>
<text x="480.50" y="171.40" font-size="7.6" text-anchor="middle" fill="#161616" stroke="#161616" stroke-width="0.28">+</text>
<text x="487.80" y="171.00" font-size="8.5" text-anchor="start" fill="#161616" stroke="#161616" stroke-width="0.22" textLength="26.13" lengthAdjust="spacingAndGlyphs">CD45+</text>
<text x="430.50" y="183.00" font-size="8.5" text-anchor="middle" fill="#161616" stroke="#161616" stroke-width="0.22" textLength="21.04" lengthAdjust="spacingAndGlyphs">CD45</text>
<text x="452.70" y="183.00" font-size="8.5" text-anchor="middle" fill="#161616" stroke="#161616" stroke-width="0.22" textLength="16.04" lengthAdjust="spacingAndGlyphs">c-Kit</text>
<text x="474.90" y="183.00" font-size="8.5" text-anchor="middle" fill="#161616" stroke="#161616" stroke-width="0.22" textLength="20.13" lengthAdjust="spacingAndGlyphs">CD41</text>
<text x="500.90" y="183.00" font-size="8.5" text-anchor="middle" fill="#161616" stroke="#161616" stroke-width="0.22" textLength="20.73" lengthAdjust="spacingAndGlyphs">VEC+</text>
<rect x="45.50" y="216.80" width="65.90" height="9.80" fill="#727272"/>
<rect x="45.50" y="216.80" width="65.90" height="1.60" fill="#868686"/>
<rect x="45.50" y="226.60" width="65.90" height="1.30" fill="#d6d6d6"/>
<rect x="45.50" y="227.90" width="65.90" height="9.30" fill="#585858"/>
<rect x="45.50" y="237.20" width="65.90" height="1.50" fill="#d0d0d0"/>
<rect x="45.50" y="238.70" width="65.90" height="11.50" fill="#606060"/>
<rect x="45.50" y="241.40" width="65.90" height="4.40" fill="#3e3e3e"/>
<rect x="45.50" y="241.40" width="28.00" height="4.40" fill="#333333"/>
<rect x="45.50" y="248.60" width="65.90" height="1.60" fill="#6c6c6c"/>
<ellipse cx="77.60" cy="222.2" rx="3.2" ry="1.4" fill="#333" opacity="0.35"/>
<ellipse cx="85.30" cy="222.2" rx="3.2" ry="1.4" fill="#333" opacity="0.45"/>
<ellipse cx="95.60" cy="222.2" rx="3.2" ry="1.4" fill="#333" opacity="0.7"/>
<ellipse cx="105.60" cy="222.2" rx="3.2" ry="1.4" fill="#333" opacity="0.6"/>
<rect x="45.50" y="228.20" width="26.50" height="8.60" fill="#2c2c2c"/>
<rect x="45.50" y="228.20" width="26.50" height="2.00" fill="#3a3a3a"/>
<ellipse cx="76.20" cy="234.0" rx="3.6" ry="1.6" fill="#262626" opacity="0.75"/>
<ellipse cx="84.60" cy="234.0" rx="3.6" ry="1.6" fill="#262626" opacity="0.75"/>
<ellipse cx="95.20" cy="234.0" rx="3.6" ry="1.6" fill="#262626" opacity="0.75"/>
<ellipse cx="103.60" cy="234.0" rx="3.6" ry="1.6" fill="#262626" opacity="0.75"/>
<text x="44.40" y="225.80" font-size="7.52" text-anchor="end" fill="#161616" stroke="#161616" stroke-width="0.28" textLength="30.23" lengthAdjust="spacingAndGlyphs">α-pStat1</text>
<text x="41.60" y="235.50" font-size="7.52" text-anchor="end" fill="#161616" stroke="#161616" stroke-width="0.28" textLength="24.73" lengthAdjust="spacingAndGlyphs">α-Stat1</text>
<text x="40.90" y="245.60" font-size="7.52" text-anchor="end" fill="#161616" stroke="#161616" stroke-width="0.28" textLength="24.53" lengthAdjust="spacingAndGlyphs">α-actin</text>
<text x="113.40" y="223.80" font-size="7.74" text-anchor="start" fill="#161616" stroke="#161616" stroke-width="0.28" textLength="25.65" lengthAdjust="spacingAndGlyphs">91 kDa</text>
<text x="113.40" y="234.90" font-size="7.74" text-anchor="start" fill="#161616" stroke="#161616" stroke-width="0.28" textLength="25.65" lengthAdjust="spacingAndGlyphs">91 kDa</text>
<text x="113.40" y="246.80" font-size="7.74" text-anchor="start" fill="#161616" stroke="#161616" stroke-width="0.28" textLength="25.65" lengthAdjust="spacingAndGlyphs">45 kDa</text>
<text x="54.70" y="253.80" font-size="8.0" text-anchor="end" fill="#161616" stroke="#161616" stroke-width="0.28" transform="rotate(-90 54.70 253.80)">0</text>
<text x="63.30" y="253.80" font-size="8.0" text-anchor="end" fill="#161616" stroke="#161616" stroke-width="0.28" transform="rotate(-90 63.30 253.80)">0.05</text>
<text x="71.70" y="253.80" font-size="8.0" text-anchor="end" fill="#161616" stroke="#161616" stroke-width="0.28" transform="rotate(-90 71.70 253.80)">0.25</text>
<text x="80.50" y="253.80" font-size="8.0" text-anchor="end" fill="#161616" stroke="#161616" stroke-width="0.28" transform="rotate(-90 80.50 253.80)">0.5</text>
<text x="88.70" y="253.80" font-size="8.0" text-anchor="end" fill="#161616" stroke="#161616" stroke-width="0.28" transform="rotate(-90 88.70 253.80)">0.75</text>
<text x="97.40" y="253.80" font-size="8.0" text-anchor="end" fill="#161616" stroke="#161616" stroke-width="0.28" transform="rotate(-90 97.40 253.80)">1</text>
<text x="106.60" y="253.80" font-size="8.0" text-anchor="end" fill="#161616" stroke="#161616" stroke-width="0.28" transform="rotate(-90 106.60 253.80)">10</text>
<text x="113.20" y="259.60" font-size="8.07" text-anchor="start" fill="#161616" stroke="#161616" stroke-width="0.28" textLength="21.79" lengthAdjust="spacingAndGlyphs">ng/mL</text>
<text x="113.20" y="269.20" font-size="8.07" text-anchor="start" fill="#161616" stroke="#161616" stroke-width="0.28" textLength="19.89" lengthAdjust="spacingAndGlyphs">IFN-α</text>
<rect x="50.5" y="302.5" width="45.00" height="46.00" fill="none" stroke="#8c8c8c" stroke-width="1"/>
<line x1="50.20" y1="326.50" x2="95.70" y2="326.50" stroke="#c4c4c4" stroke-width="0.9"/>
<line x1="71.50" y1="302.50" x2="71.50" y2="348.60" stroke="#ededed" stroke-width="0.8"/>
<ellipse cx="54" cy="340" rx="1.2" ry="2.5" fill="#eeeef0"/>
<ellipse cx="57" cy="343" rx="1.2" ry="2.5" fill="#eeeef0"/>
<ellipse cx="60" cy="341" rx="1.2" ry="2.5" fill="#eeeef0"/>
<ellipse cx="63" cy="344" rx="1.2" ry="2.5" fill="#eeeef0"/>
<ellipse cx="66" cy="339" rx="1.2" ry="2.5" fill="#eeeef0"/>
<ellipse cx="69" cy="342" rx="1.2" ry="2.5" fill="#eeeef0"/>
<ellipse cx="55" cy="346" rx="1.2" ry="2.5" fill="#eeeef0"/>
<ellipse cx="62" cy="346" rx="1.2" ry="2.5" fill="#eeeef0"/>
<ellipse cx="58.8" cy="321.5" rx="8.6" ry="1.4" fill="#a6aec8"/>
<ellipse cx="57.5" cy="321.3" rx="6.2" ry="0.8" fill="#7c8ab0"/>
<ellipse cx="57" cy="323.5" rx="5" ry="0.6" fill="#cdd1de"/>
<ellipse cx="78.4" cy="342.6" rx="2.6" ry="4.8" fill="#cacaa6"/>
<ellipse cx="78.4" cy="342.9" rx="1.5" ry="3.4" fill="#a2a26a"/>
<line x1="50.50" y1="302.50" x2="50.50" y2="349.10" stroke="#1c1c1c" stroke-width="1.5"/>
<line x1="50.20" y1="348.50" x2="95.70" y2="348.50" stroke="#1c1c1c" stroke-width="1.5"/>
<line x1="49.00" y1="348.60" x2="50.50" y2="348.60" stroke="#333" stroke-width="0.9"/>
<line x1="50.20" y1="348.50" x2="50.20" y2="350.00" stroke="#333" stroke-width="0.9"/>
<line x1="49.00" y1="341.51" x2="50.50" y2="341.51" stroke="#333" stroke-width="0.9"/>
<line x1="57.20" y1="348.50" x2="57.20" y2="350.00" stroke="#333" stroke-width="0.9"/>
<line x1="49.00" y1="334.42" x2="50.50" y2="334.42" stroke="#333" stroke-width="0.9"/>
<line x1="64.20" y1="348.50" x2="64.20" y2="350.00" stroke="#333" stroke-width="0.9"/>
<line x1="49.00" y1="327.32" x2="50.50" y2="327.32" stroke="#333" stroke-width="0.9"/>
<line x1="71.20" y1="348.50" x2="71.20" y2="350.00" stroke="#333" stroke-width="0.9"/>
<line x1="49.00" y1="320.23" x2="50.50" y2="320.23" stroke="#333" stroke-width="0.9"/>
<line x1="78.20" y1="348.50" x2="78.20" y2="350.00" stroke="#333" stroke-width="0.9"/>
<line x1="49.00" y1="313.14" x2="50.50" y2="313.14" stroke="#333" stroke-width="0.9"/>
<line x1="85.20" y1="348.50" x2="85.20" y2="350.00" stroke="#333" stroke-width="0.9"/>
<line x1="49.00" y1="306.05" x2="50.50" y2="306.05" stroke="#333" stroke-width="0.9"/>
<line x1="92.20" y1="348.50" x2="92.20" y2="350.00" stroke="#333" stroke-width="0.9"/>
<text x="52.80" y="310.50" font-size="8.39" text-anchor="start" fill="#161616" stroke="#161616" stroke-width="0.28" textLength="17.02" lengthAdjust="spacingAndGlyphs">41%</text>
<text x="76.80" y="335.10" font-size="8.39" text-anchor="start" fill="#161616" stroke="#161616" stroke-width="0.28" textLength="16.42" lengthAdjust="spacingAndGlyphs">53%</text>
<text x="46.30" y="324.60" font-size="8.28" text-anchor="middle" fill="#161616" stroke="#161616" stroke-width="0.28" textLength="25.91" lengthAdjust="spacingAndGlyphs" transform="rotate(-90 46.30 324.60)">CD45.1</text>
<text x="59.60" y="360.20" font-size="8.28" text-anchor="start" fill="#161616" stroke="#161616" stroke-width="0.28" textLength="27.21" lengthAdjust="spacingAndGlyphs">CD45.2</text>
<circle cx="194.40" cy="224.30" r="2.30" fill="#c4c4c4" stroke="none" stroke-width="1"/>
<text x="199.90" y="227.00" font-size="8.07" text-anchor="start" fill="#161616" stroke="#161616" stroke-width="0.28" textLength="24.19" lengthAdjust="spacingAndGlyphs">Control</text>
<circle cx="194.40" cy="233.60" r="2.30" fill="#2a3b6a" stroke="none" stroke-width="1"/>
<text x="199.90" y="236.30" font-size="8.07" text-anchor="start" fill="#161616" stroke="#161616" stroke-width="0.28" textLength="59.49" lengthAdjust="spacingAndGlyphs">IFN-α 0.05 ng/mL</text>
<circle cx="194.40" cy="242.40" r="2.30" fill="#8e1028" stroke="none" stroke-width="1"/>
<text x="199.90" y="245.10" font-size="8.07" text-anchor="start" fill="#161616" stroke="#161616" stroke-width="0.28" textLength="55.29" lengthAdjust="spacingAndGlyphs">IFN-α 0.5 ng/mL</text>
<text x="286.80" y="227.00" font-size="9.98" text-anchor="start" fill="#161616" stroke="#161616" stroke-width="0.18" textLength="116.20" lengthAdjust="spacingAndGlyphs">AGM transplantation (2 ee)</text>
<line x1="189.00" y1="249.50" x2="391.70" y2="249.50" stroke="#222" stroke-width="1"/>
<line x1="410.30" y1="242.50" x2="493.80" y2="242.50" stroke="#222" stroke-width="1"/>
<path d="M289.5,249.5 L289.5,238.5 L452.5,238.5 L452.5,242.5" fill="none" stroke="#222" stroke-width="1"/>
<circle cx="369.40" cy="234.60" r="1.15" fill="#111" stroke="none" stroke-width="1"/>
<circle cx="373.10" cy="234.60" r="1.15" fill="#111" stroke="none" stroke-width="1"/>
<line x1="189.10" y1="249.40" x2="189.10" y2="343.20" stroke="#222" stroke-width="1.05"/>
<line x1="185.80" y1="254.50" x2="189.10" y2="254.50" stroke="#222" stroke-width="1"/>
<text x="183.70" y="256.90" font-size="7.96" text-anchor="end" fill="#161616" stroke="#161616" stroke-width="0.28" textLength="13.28" lengthAdjust="spacingAndGlyphs">100</text>
<line x1="185.80" y1="275.50" x2="189.10" y2="275.50" stroke="#222" stroke-width="1"/>
<text x="183.70" y="278.60" font-size="7.96" text-anchor="end" fill="#161616" stroke="#161616" stroke-width="0.28" textLength="9.08" lengthAdjust="spacingAndGlyphs">80</text>
<line x1="185.80" y1="297.50" x2="189.10" y2="297.50" stroke="#222" stroke-width="1"/>
<text x="183.70" y="300.30" font-size="7.96" text-anchor="end" fill="#161616" stroke="#161616" stroke-width="0.28" textLength="9.08" lengthAdjust="spacingAndGlyphs">60</text>
<line x1="185.80" y1="319.50" x2="189.10" y2="319.50" stroke="#222" stroke-width="1"/>
<text x="183.70" y="322.00" font-size="7.96" text-anchor="end" fill="#161616" stroke="#161616" stroke-width="0.28" textLength="9.08" lengthAdjust="spacingAndGlyphs">40</text>
<line x1="185.80" y1="340.50" x2="189.10" y2="340.50" stroke="#222" stroke-width="1"/>
<text x="183.70" y="343.70" font-size="7.96" text-anchor="end" fill="#161616" stroke="#161616" stroke-width="0.28" textLength="9.08" lengthAdjust="spacingAndGlyphs">20</text>
<text x="163.00" y="297.30" font-size="9.26" text-anchor="middle" fill="#161616" stroke="#161616" stroke-width="0.22" textLength="84.82" lengthAdjust="spacingAndGlyphs" transform="rotate(-90 163.00 297.30)">Donor chimerism (%)</text>
<line x1="205.00" y1="354.50" x2="485.50" y2="354.50" stroke="#222" stroke-width="1"/>
<line x1="207.50" y1="276.30" x2="207.50" y2="277.20" stroke="#000" stroke-width="1.35" stroke-dasharray="1.3,0.9"/>
<line x1="204.50" y1="276.30" x2="210.50" y2="276.30" stroke="#111" stroke-width="1.2"/>
<line x1="207.50" y1="308.10" x2="207.50" y2="334.20" stroke="#000" stroke-width="1.35" stroke-dasharray="1.3,0.9"/>
<line x1="204.50" y1="334.20" x2="210.50" y2="334.20" stroke="#111" stroke-width="1.2"/>
<rect x="201.30" y="277.20" width="12.40" height="30.90" fill="#c6c6ca"/>
<line x1="201.30" y1="292.00" x2="213.70" y2="292.00" stroke="#111" stroke-width="1.5"/>
<rect x="219.70" y="259.70" width="11.80" height="4.50" fill="#c6c6ca"/>
<line x1="219.70" y1="260.30" x2="231.50" y2="260.30" stroke="#111" stroke-width="1.5"/>
<circle cx="225.60" cy="343.10" r="1.50" fill="none" stroke="#1a1a1a" stroke-width="0.95"/>
<line x1="240.40" y1="255.60" x2="240.40" y2="260.20" stroke="#000" stroke-width="1.35" stroke-dasharray="1.3,0.9"/>
<line x1="237.40" y1="255.60" x2="243.40" y2="255.60" stroke="#111" stroke-width="1.2"/>
<rect x="234.60" y="260.20" width="11.60" height="9.40" fill="#c6c6ca"/>
<line x1="234.60" y1="263.70" x2="246.20" y2="263.70" stroke="#111" stroke-width="1.5"/>
<circle cx="240.40" cy="320.00" r="1.50" fill="none" stroke="#1a1a1a" stroke-width="0.95"/>
<rect x="248.90" y="257.00" width="11.80" height="3.20" fill="#c6c6ca"/>
<line x1="248.90" y1="258.00" x2="260.70" y2="258.00" stroke="#111" stroke-width="1.5"/>
<circle cx="254.80" cy="270.40" r="1.50" fill="none" stroke="#1a1a1a" stroke-width="0.95"/>
<rect x="263.10" y="257.50" width="11.80" height="2.20" fill="#c6c6ca"/>
<line x1="263.10" y1="258.30" x2="274.90" y2="258.30" stroke="#111" stroke-width="1.5"/>
<circle cx="269.00" cy="280.40" r="1.50" fill="none" stroke="#1a1a1a" stroke-width="0.95"/>
<rect x="277.30" y="257.80" width="11.40" height="1.60" fill="#c6c6ca"/>
<line x1="277.30" y1="258.50" x2="288.70" y2="258.50" stroke="#111" stroke-width="1.5"/>
<circle cx="283.00" cy="300.60" r="1.50" fill="none" stroke="#1a1a1a" stroke-width="0.95"/>
<line x1="311.20" y1="295.70" x2="311.20" y2="299.90" stroke="#000" stroke-width="1.35" stroke-dasharray="1.3,0.9"/>
<line x1="308.20" y1="295.70" x2="314.20" y2="295.70" stroke="#111" stroke-width="1.2"/>
<line x1="311.20" y1="318.50" x2="311.20" y2="324.70" stroke="#000" stroke-width="1.35" stroke-dasharray="1.3,0.9"/>
<line x1="308.20" y1="324.70" x2="314.20" y2="324.70" stroke="#111" stroke-width="1.2"/>
<rect x="305.70" y="299.90" width="11.00" height="18.60" fill="#27407c" stroke="#1c2d5c" stroke-width="0.6"/>
<line x1="305.70" y1="308.00" x2="316.70" y2="308.00" stroke="#111" stroke-width="1.5"/>
<line x1="325.60" y1="302.20" x2="325.60" y2="332.90" stroke="#000" stroke-width="1.35" stroke-dasharray="1.3,0.9"/>
<line x1="322.60" y1="332.90" x2="328.60" y2="332.90" stroke="#111" stroke-width="1.2"/>
<rect x="320.10" y="262.00" width="11.00" height="40.20" fill="#27407c" stroke="#1c2d5c" stroke-width="0.6"/>
<line x1="320.10" y1="266.70" x2="331.10" y2="266.70" stroke="#111" stroke-width="1.5"/>
<line x1="340.10" y1="316.60" x2="340.10" y2="350.70" stroke="#000" stroke-width="1.35" stroke-dasharray="1.3,0.9"/>
<line x1="337.10" y1="350.70" x2="343.10" y2="350.70" stroke="#111" stroke-width="1.2"/>
<rect x="334.60" y="263.20" width="11.00" height="53.40" fill="#27407c" stroke="#1c2d5c" stroke-width="0.6"/>
<line x1="334.60" y1="272.50" x2="345.60" y2="272.50" stroke="#111" stroke-width="1.5"/>
<line x1="354.00" y1="256.70" x2="354.00" y2="257.40" stroke="#000" stroke-width="1.35" stroke-dasharray="1.3,0.9"/>
<line x1="351.00" y1="256.70" x2="357.00" y2="256.70" stroke="#111" stroke-width="1.2"/>
<line x1="354.00" y1="302.70" x2="354.00" y2="337.50" stroke="#000" stroke-width="1.35" stroke-dasharray="1.3,0.9"/>
<line x1="351.00" y1="337.50" x2="357.00" y2="337.50" stroke="#111" stroke-width="1.2"/>
<rect x="348.50" y="257.40" width="11.00" height="45.30" fill="#27407c" stroke="#1c2d5c" stroke-width="0.6"/>
<line x1="348.50" y1="263.20" x2="359.50" y2="263.20" stroke="#111" stroke-width="1.5"/>
<line x1="368.50" y1="302.20" x2="368.50" y2="338.00" stroke="#000" stroke-width="1.35" stroke-dasharray="1.3,0.9"/>
<line x1="365.50" y1="338.00" x2="371.50" y2="338.00" stroke="#111" stroke-width="1.2"/>
<rect x="363.00" y="258.10" width="11.00" height="44.10" fill="#27407c" stroke="#1c2d5c" stroke-width="0.6"/>
<line x1="363.00" y1="263.20" x2="374.00" y2="263.20" stroke="#111" stroke-width="1.5"/>
<line x1="382.60" y1="302.20" x2="382.60" y2="338.00" stroke="#000" stroke-width="1.35" stroke-dasharray="1.3,0.9"/>
<line x1="379.60" y1="338.00" x2="385.60" y2="338.00" stroke="#111" stroke-width="1.2"/>
<rect x="377.10" y="259.00" width="11.00" height="43.20" fill="#27407c" stroke="#1c2d5c" stroke-width="0.6"/>
<line x1="377.10" y1="263.20" x2="388.10" y2="263.20" stroke="#111" stroke-width="1.5"/>
<line x1="411.10" y1="291.70" x2="411.10" y2="293.70" stroke="#000" stroke-width="1.35" stroke-dasharray="1.3,0.9"/>
<line x1="408.10" y1="293.70" x2="414.10" y2="293.70" stroke="#111" stroke-width="1.2"/>
<rect x="405.50" y="284.50" width="11.20" height="7.20" fill="#ad062f" stroke="#7c0622" stroke-width="0.6"/>
<line x1="405.50" y1="288.00" x2="416.70" y2="288.00" stroke="#3a0410" stroke-width="1.5"/>
<line x1="425.10" y1="263.70" x2="425.10" y2="266.00" stroke="#000" stroke-width="1.35" stroke-dasharray="1.3,0.9"/>
<line x1="422.10" y1="266.00" x2="428.10" y2="266.00" stroke="#111" stroke-width="1.2"/>
<rect x="419.50" y="261.00" width="11.20" height="2.70" fill="#ad062f" stroke="#7c0622" stroke-width="0.6"/>
<line x1="419.50" y1="262.30" x2="430.70" y2="262.30" stroke="#3a0410" stroke-width="1.5"/>
<line x1="439.40" y1="257.00" x2="439.40" y2="258.70" stroke="#000" stroke-width="1.35" stroke-dasharray="1.3,0.9"/>
<line x1="436.40" y1="257.00" x2="442.40" y2="257.00" stroke="#111" stroke-width="1.2"/>
<line x1="439.40" y1="262.00" x2="439.40" y2="265.00" stroke="#000" stroke-width="1.35" stroke-dasharray="1.3,0.9"/>
<line x1="436.40" y1="265.00" x2="442.40" y2="265.00" stroke="#111" stroke-width="1.2"/>
<rect x="433.80" y="258.70" width="11.20" height="3.30" fill="#ad062f" stroke="#7c0622" stroke-width="0.6"/>
<line x1="433.80" y1="260.50" x2="445.00" y2="260.50" stroke="#3a0410" stroke-width="1.5"/>
<rect x="448.00" y="255.50" width="11.40" height="3.20" fill="#ad062f" stroke="#7c0622" stroke-width="0.6"/>
<line x1="448.00" y1="257.00" x2="459.40" y2="257.00" stroke="#3a0410" stroke-width="1.5"/>
<rect x="462.50" y="257.00" width="11.20" height="2.50" fill="#ad062f" stroke="#7c0622" stroke-width="0.6"/>
<line x1="462.50" y1="258.30" x2="473.70" y2="258.30" stroke="#3a0410" stroke-width="1.5"/>
<rect x="477.00" y="256.50" width="11.00" height="2.20" fill="#ad062f" stroke="#7c0622" stroke-width="0.6"/>
<line x1="477.00" y1="257.60" x2="488.00" y2="257.60" stroke="#3a0410" stroke-width="1.5"/>
<line x1="207.50" y1="354.40" x2="207.50" y2="358.20" stroke="#222" stroke-width="1"/>
<text x="207.50" y="367.50" font-size="7.0" text-anchor="middle" fill="#161616" stroke="#161616" stroke-width="0.28">4</text>
<line x1="225.50" y1="354.40" x2="225.50" y2="358.20" stroke="#222" stroke-width="1"/>
<text x="225.60" y="367.50" font-size="7.0" text-anchor="middle" fill="#161616" stroke="#161616" stroke-width="0.28">6</text>
<line x1="240.50" y1="354.40" x2="240.50" y2="358.20" stroke="#222" stroke-width="1"/>
<text x="240.40" y="367.50" font-size="7.0" text-anchor="middle" fill="#161616" stroke="#161616" stroke-width="0.28">10</text>
<line x1="254.50" y1="354.40" x2="254.50" y2="358.20" stroke="#222" stroke-width="1"/>
<text x="254.80" y="367.50" font-size="7.0" text-anchor="middle" fill="#161616" stroke="#161616" stroke-width="0.28">14</text>
<line x1="269.50" y1="354.40" x2="269.50" y2="358.20" stroke="#222" stroke-width="1"/>
<text x="269.00" y="367.50" font-size="7.0" text-anchor="middle" fill="#161616" stroke="#161616" stroke-width="0.28">18</text>
<line x1="283.50" y1="354.40" x2="283.50" y2="358.20" stroke="#222" stroke-width="1"/>
<text x="283.00" y="367.50" font-size="7.0" text-anchor="middle" fill="#161616" stroke="#161616" stroke-width="0.28">21</text>
<line x1="311.50" y1="354.40" x2="311.50" y2="358.20" stroke="#222" stroke-width="1"/>
<text x="311.20" y="367.50" font-size="7.0" text-anchor="middle" fill="#161616" stroke="#161616" stroke-width="0.28">4</text>
<line x1="325.50" y1="354.40" x2="325.50" y2="358.20" stroke="#222" stroke-width="1"/>
<text x="325.60" y="367.50" font-size="7.0" text-anchor="middle" fill="#161616" stroke="#161616" stroke-width="0.28">6</text>
<line x1="340.50" y1="354.40" x2="340.50" y2="358.20" stroke="#222" stroke-width="1"/>
<text x="340.10" y="367.50" font-size="7.0" text-anchor="middle" fill="#161616" stroke="#161616" stroke-width="0.28">10</text>
<line x1="354.50" y1="354.40" x2="354.50" y2="358.20" stroke="#222" stroke-width="1"/>
<text x="354.00" y="367.50" font-size="7.0" text-anchor="middle" fill="#161616" stroke="#161616" stroke-width="0.28">14</text>
<line x1="368.50" y1="354.40" x2="368.50" y2="358.20" stroke="#222" stroke-width="1"/>
<text x="368.50" y="367.50" font-size="7.0" text-anchor="middle" fill="#161616" stroke="#161616" stroke-width="0.28">18</text>
<line x1="382.50" y1="354.40" x2="382.50" y2="358.20" stroke="#222" stroke-width="1"/>
<text x="382.60" y="367.50" font-size="7.0" text-anchor="middle" fill="#161616" stroke="#161616" stroke-width="0.28">21</text>
<line x1="411.50" y1="354.40" x2="411.50" y2="358.20" stroke="#222" stroke-width="1"/>
<text x="411.10" y="367.50" font-size="7.0" text-anchor="middle" fill="#161616" stroke="#161616" stroke-width="0.28">4</text>
<line x1="425.50" y1="354.40" x2="425.50" y2="358.20" stroke="#222" stroke-width="1"/>
<text x="425.10" y="367.50" font-size="7.0" text-anchor="middle" fill="#161616" stroke="#161616" stroke-width="0.28">6</text>
<line x1="439.50" y1="354.40" x2="439.50" y2="358.20" stroke="#222" stroke-width="1"/>
<text x="439.40" y="367.50" font-size="7.0" text-anchor="middle" fill="#161616" stroke="#161616" stroke-width="0.28">10</text>
<line x1="453.50" y1="354.40" x2="453.50" y2="358.20" stroke="#222" stroke-width="1"/>
<text x="453.70" y="367.50" font-size="7.0" text-anchor="middle" fill="#161616" stroke="#161616" stroke-width="0.28">14</text>
<line x1="468.50" y1="354.40" x2="468.50" y2="358.20" stroke="#222" stroke-width="1"/>
<text x="468.10" y="367.50" font-size="7.0" text-anchor="middle" fill="#161616" stroke="#161616" stroke-width="0.28">18</text>
<line x1="482.50" y1="354.40" x2="482.50" y2="358.20" stroke="#222" stroke-width="1"/>
<text x="482.50" y="367.50" font-size="7.0" text-anchor="middle" fill="#161616" stroke="#161616" stroke-width="0.28">21</text>
<text x="345.00" y="381.10" font-size="8.72" text-anchor="middle" fill="#161616" stroke="#161616" stroke-width="0.22" textLength="25.56" lengthAdjust="spacingAndGlyphs">Weeks</text>
<line x1="70.50" y1="468.30" x2="70.50" y2="557.80" stroke="#222" stroke-width="1"/>
<line x1="67.60" y1="471.50" x2="70.40" y2="471.50" stroke="#222" stroke-width="1"/>
<text x="64.80" y="474.00" font-size="7.74" text-anchor="end" fill="#161616" stroke="#161616" stroke-width="0.28" textLength="12.65" lengthAdjust="spacingAndGlyphs">100</text>
<line x1="67.60" y1="492.50" x2="70.40" y2="492.50" stroke="#222" stroke-width="1"/>
<text x="64.80" y="495.00" font-size="7.74" text-anchor="end" fill="#161616" stroke="#161616" stroke-width="0.28" textLength="8.45" lengthAdjust="spacingAndGlyphs">80</text>
<line x1="67.60" y1="513.50" x2="70.40" y2="513.50" stroke="#222" stroke-width="1"/>
<text x="64.80" y="516.00" font-size="7.74" text-anchor="end" fill="#161616" stroke="#161616" stroke-width="0.28" textLength="8.45" lengthAdjust="spacingAndGlyphs">60</text>
<line x1="67.60" y1="534.50" x2="70.40" y2="534.50" stroke="#222" stroke-width="1"/>
<text x="64.80" y="537.00" font-size="7.74" text-anchor="end" fill="#161616" stroke="#161616" stroke-width="0.28" textLength="8.45" lengthAdjust="spacingAndGlyphs">40</text>
<line x1="67.60" y1="555.50" x2="70.40" y2="555.50" stroke="#222" stroke-width="1"/>
<text x="64.80" y="558.00" font-size="7.74" text-anchor="end" fill="#161616" stroke="#161616" stroke-width="0.28" textLength="8.45" lengthAdjust="spacingAndGlyphs">20</text>
<text x="33.70" y="512.30" font-size="8.94" text-anchor="middle" fill="#161616" stroke="#161616" stroke-width="0.22" textLength="52.08" lengthAdjust="spacingAndGlyphs" transform="rotate(-90 33.70 512.30)">Bone marrow</text>
<text x="45.40" y="513.50" font-size="8.94" text-anchor="middle" fill="#161616" stroke="#161616" stroke-width="0.22" textLength="57.98" lengthAdjust="spacingAndGlyphs" transform="rotate(-90 45.40 513.50)">chimerism (%)</text>
<line x1="73.80" y1="472.60" x2="83.20" y2="472.60" stroke="#111" stroke-width="1.6"/>
<circle cx="77.90" cy="546.70" r="1.30" fill="none" stroke="#222" stroke-width="0.9"/>
<line x1="90.50" y1="540.00" x2="90.50" y2="564.50" stroke="#000" stroke-width="1.35" stroke-dasharray="1.3,0.9"/>
<line x1="87.50" y1="564.50" x2="93.50" y2="564.50" stroke="#111" stroke-width="1.2"/>
<rect x="85.50" y="472.50" width="10.00" height="67.50" fill="#27407c" stroke="#1c2d5c" stroke-width="0.6"/>
<line x1="85.50" y1="495.00" x2="95.50" y2="495.00" stroke="#111" stroke-width="1.5"/>
<line x1="88.00" y1="472.40" x2="93.00" y2="472.40" stroke="#111" stroke-width="1.4"/>
<line x1="97.60" y1="472.20" x2="107.30" y2="472.20" stroke="#111" stroke-width="1.6"/>
<path d="M100.5,472.5 L102.4,474.6 L104.3,472.5" fill="#111" stroke="#111" stroke-width="0.6"/>
<line x1="76.00" y1="568.50" x2="103.00" y2="568.50" stroke="#222" stroke-width="1"/>
<line x1="78.50" y1="568.75" x2="78.50" y2="572.00" stroke="#222" stroke-width="1"/>
<line x1="90.50" y1="568.75" x2="90.50" y2="572.00" stroke="#222" stroke-width="1"/>
<line x1="102.50" y1="568.75" x2="102.50" y2="572.00" stroke="#222" stroke-width="1"/>
<path d="M77,464.5 L92.5,464.5 M84.5,464.5 L84.5,459.5 L103.5,459.5 L103.5,465.4" fill="none" stroke="#222" stroke-width="0.9"/>
<circle cx="94.00" cy="456.30" r="1.15" fill="#111" stroke="none" stroke-width="1"/>
<text x="10.80" y="582.20" font-size="8.07" text-anchor="start" fill="#161616" stroke="#161616" stroke-width="0.28" textLength="60.99" lengthAdjust="spacingAndGlyphs">IFN-α 0.05ng/mL</text>
<text x="10.80" y="594.40" font-size="8.07" text-anchor="start" fill="#161616" stroke="#161616" stroke-width="0.28" textLength="56.49" lengthAdjust="spacingAndGlyphs">IFN-α 0.5ng/mL</text>
<text x="78.30" y="582.40" font-size="7.4" text-anchor="middle" fill="#161616" stroke="#161616" stroke-width="0.28">-</text>
<text x="90.50" y="582.40" font-size="7.4" text-anchor="middle" fill="#161616" stroke="#161616" stroke-width="0.28">+</text>
<text x="102.20" y="582.40" font-size="7.4" text-anchor="middle" fill="#161616" stroke="#161616" stroke-width="0.28">-</text>
<text x="78.30" y="594.40" font-size="7.4" text-anchor="middle" fill="#161616" stroke="#161616" stroke-width="0.28">-</text>
<text x="90.50" y="594.40" font-size="7.4" text-anchor="middle" fill="#161616" stroke="#161616" stroke-width="0.28">-</text>
<text x="102.20" y="594.40" font-size="7.4" text-anchor="middle" fill="#161616" stroke="#161616" stroke-width="0.28">+</text>
<rect x="165.00" y="431.60" width="4.60" height="4.60" fill="#0c0c0c"/>
<text x="171.70" y="436.60" font-size="7.96" text-anchor="start" fill="#161616" stroke="#161616" stroke-width="0.28" textLength="12.18" lengthAdjust="spacingAndGlyphs">Ctrl</text>
<rect x="165.00" y="440.80" width="4.60" height="4.60" fill="#27407c"/>
<text x="171.70" y="445.80" font-size="7.96" text-anchor="start" fill="#161616" stroke="#161616" stroke-width="0.28" textLength="57.18" lengthAdjust="spacingAndGlyphs">IFN-α 0.05ng/mL</text>
<rect x="165.00" y="449.20" width="4.60" height="4.60" fill="#ad062f"/>
<text x="171.70" y="454.20" font-size="7.96" text-anchor="start" fill="#161616" stroke="#161616" stroke-width="0.28" textLength="52.88" lengthAdjust="spacingAndGlyphs">IFN-α 0.5ng/mL</text>
<line x1="156.50" y1="444.60" x2="156.50" y2="568.80" stroke="#222" stroke-width="1"/>
<line x1="153.70" y1="568.50" x2="156.50" y2="568.50" stroke="#222" stroke-width="1"/>
<line x1="153.70" y1="556.50" x2="156.50" y2="556.50" stroke="#222" stroke-width="1"/>
<line x1="153.70" y1="544.50" x2="156.50" y2="544.50" stroke="#222" stroke-width="1"/>
<line x1="153.70" y1="532.50" x2="156.50" y2="532.50" stroke="#222" stroke-width="1"/>
<line x1="153.70" y1="520.50" x2="156.50" y2="520.50" stroke="#222" stroke-width="1"/>
<line x1="153.70" y1="508.50" x2="156.50" y2="508.50" stroke="#222" stroke-width="1"/>
<line x1="153.70" y1="496.50" x2="156.50" y2="496.50" stroke="#222" stroke-width="1"/>
<line x1="153.70" y1="483.50" x2="156.50" y2="483.50" stroke="#222" stroke-width="1"/>
<line x1="153.70" y1="471.50" x2="156.50" y2="471.50" stroke="#222" stroke-width="1"/>
<line x1="153.70" y1="459.50" x2="156.50" y2="459.50" stroke="#222" stroke-width="1"/>
<line x1="153.70" y1="447.50" x2="156.50" y2="447.50" stroke="#222" stroke-width="1"/>
<text x="151.00" y="570.80" font-size="7.85" text-anchor="end" fill="#161616" stroke="#161616" stroke-width="0.28" textLength="4.76" lengthAdjust="spacingAndGlyphs">0</text>
<text x="151.00" y="546.74" font-size="7.85" text-anchor="end" fill="#161616" stroke="#161616" stroke-width="0.28" textLength="8.66" lengthAdjust="spacingAndGlyphs">20</text>
<text x="151.00" y="522.68" font-size="7.85" text-anchor="end" fill="#161616" stroke="#161616" stroke-width="0.28" textLength="8.66" lengthAdjust="spacingAndGlyphs">40</text>
<text x="151.00" y="498.62" font-size="7.85" text-anchor="end" fill="#161616" stroke="#161616" stroke-width="0.28" textLength="8.66" lengthAdjust="spacingAndGlyphs">60</text>
<text x="151.00" y="474.56" font-size="7.85" text-anchor="end" fill="#161616" stroke="#161616" stroke-width="0.28" textLength="8.66" lengthAdjust="spacingAndGlyphs">80</text>
<text x="151.00" y="450.50" font-size="7.85" text-anchor="end" fill="#161616" stroke="#161616" stroke-width="0.28" textLength="12.86" lengthAdjust="spacingAndGlyphs">100</text>
<text x="131.40" y="506.20" font-size="9.15" text-anchor="middle" fill="#161616" stroke="#161616" stroke-width="0.22" textLength="96.11" lengthAdjust="spacingAndGlyphs" transform="rotate(-90 131.40 506.20)">Lineage contribution (%)</text>
<line x1="156.50" y1="568.50" x2="236.30" y2="568.50" stroke="#222" stroke-width="1"/>
<line x1="182.50" y1="568.75" x2="182.50" y2="572.00" stroke="#222" stroke-width="1"/>
<line x1="208.50" y1="568.75" x2="208.50" y2="572.00" stroke="#222" stroke-width="1"/>
<line x1="236.50" y1="568.75" x2="236.50" y2="572.00" stroke="#222" stroke-width="1"/>
<rect x="161.20" y="483.99" width="5.60" height="84.21" fill="#0c0c0c"/>
<line x1="164.00" y1="475.57" x2="164.00" y2="483.99" stroke="#000" stroke-width="0.9"/>
<line x1="162.60" y1="475.57" x2="165.40" y2="475.57" stroke="#000" stroke-width="0.9"/>
<line x1="164.00" y1="483.99" x2="164.00" y2="492.41" stroke="#333" stroke-width="0.9"/>
<rect x="166.80" y="496.02" width="5.60" height="72.18" fill="#27407c"/>
<line x1="169.60" y1="478.58" x2="169.60" y2="496.02" stroke="#000" stroke-width="0.9"/>
<line x1="168.20" y1="478.58" x2="171.00" y2="478.58" stroke="#000" stroke-width="0.9"/>
<line x1="169.60" y1="496.02" x2="169.60" y2="514.07" stroke="#111" stroke-width="0.9"/>
<line x1="168.20" y1="514.07" x2="171.00" y2="514.07" stroke="#111" stroke-width="0.9"/>
<rect x="172.40" y="483.99" width="5.60" height="84.21" fill="#ad062f"/>
<line x1="175.20" y1="475.57" x2="175.20" y2="483.99" stroke="#000" stroke-width="0.9"/>
<line x1="173.80" y1="475.57" x2="176.60" y2="475.57" stroke="#000" stroke-width="0.9"/>
<line x1="175.20" y1="483.99" x2="175.20" y2="492.41" stroke="#111" stroke-width="0.9"/>
<rect x="186.75" y="542.22" width="5.60" height="25.98" fill="#0c0c0c"/>
<line x1="189.55" y1="533.31" x2="189.55" y2="542.22" stroke="#000" stroke-width="0.9"/>
<line x1="188.15" y1="533.31" x2="190.95" y2="533.31" stroke="#000" stroke-width="0.9"/>
<line x1="189.55" y1="542.22" x2="189.55" y2="551.12" stroke="#333" stroke-width="0.9"/>
<rect x="192.35" y="541.37" width="5.60" height="26.83" fill="#27407c"/>
<line x1="195.15" y1="537.52" x2="195.15" y2="541.37" stroke="#000" stroke-width="0.9"/>
<line x1="193.75" y1="537.52" x2="196.55" y2="537.52" stroke="#000" stroke-width="0.9"/>
<line x1="195.15" y1="541.37" x2="195.15" y2="545.22" stroke="#111" stroke-width="0.9"/>
<rect x="197.95" y="543.42" width="5.60" height="24.78" fill="#ad062f"/>
<line x1="200.75" y1="536.44" x2="200.75" y2="543.42" stroke="#000" stroke-width="0.9"/>
<line x1="199.35" y1="536.44" x2="202.15" y2="536.44" stroke="#000" stroke-width="0.9"/>
<line x1="200.75" y1="543.42" x2="200.75" y2="550.40" stroke="#111" stroke-width="0.9"/>
<rect x="212.50" y="559.06" width="5.60" height="9.14" fill="#0c0c0c"/>
<line x1="215.30" y1="556.53" x2="215.30" y2="559.06" stroke="#000" stroke-width="0.9"/>
<line x1="213.90" y1="556.53" x2="216.70" y2="556.53" stroke="#000" stroke-width="0.9"/>
<line x1="215.30" y1="559.06" x2="215.30" y2="561.58" stroke="#333" stroke-width="0.9"/>
<rect x="218.10" y="547.75" width="5.60" height="20.45" fill="#27407c"/>
<line x1="220.90" y1="528.98" x2="220.90" y2="547.75" stroke="#000" stroke-width="0.9"/>
<line x1="219.50" y1="528.98" x2="222.30" y2="528.98" stroke="#000" stroke-width="0.9"/>
<line x1="220.90" y1="547.75" x2="220.90" y2="566.40" stroke="#111" stroke-width="0.9"/>
<line x1="219.50" y1="566.40" x2="222.30" y2="566.40" stroke="#111" stroke-width="0.9"/>
<rect x="223.70" y="557.73" width="5.60" height="10.47" fill="#ad062f"/>
<line x1="226.50" y1="554.97" x2="226.50" y2="557.73" stroke="#000" stroke-width="0.9"/>
<line x1="225.10" y1="554.97" x2="227.90" y2="554.97" stroke="#000" stroke-width="0.9"/>
<line x1="226.50" y1="557.73" x2="226.50" y2="560.50" stroke="#111" stroke-width="0.9"/>
<text x="169.80" y="464.50" font-size="7.63" text-anchor="middle" fill="#161616" stroke="#161616" stroke-width="0.28" textLength="12.04" lengthAdjust="spacingAndGlyphs">n.s.</text>
<line x1="163.60" y1="466.50" x2="176.00" y2="466.50" stroke="#222" stroke-width="1"/>
<text x="195.00" y="527.60" font-size="7.63" text-anchor="middle" fill="#161616" stroke="#161616" stroke-width="0.28" textLength="12.04" lengthAdjust="spacingAndGlyphs">n.s.</text>
<line x1="188.00" y1="529.50" x2="202.00" y2="529.50" stroke="#222" stroke-width="1"/>
<text x="219.15" y="521.10" font-size="7.63" text-anchor="middle" fill="#161616" stroke="#161616" stroke-width="0.28" textLength="12.04" lengthAdjust="spacingAndGlyphs">n.s.</text>
<line x1="212.80" y1="523.50" x2="225.50" y2="523.50" stroke="#222" stroke-width="1"/>
<text x="169.60" y="582.00" font-size="7.6" text-anchor="middle" fill="#161616" stroke="#161616" stroke-width="0.28">B</text>
<text x="195.30" y="582.00" font-size="7.6" text-anchor="middle" fill="#161616" stroke="#161616" stroke-width="0.28">T</text>
<text x="220.80" y="582.00" font-size="8.28" text-anchor="middle" fill="#161616" stroke="#161616" stroke-width="0.28" textLength="28.91" lengthAdjust="spacingAndGlyphs">Myeloid</text>
<text x="314.60" y="418.20" font-size="9.6" text-anchor="start" fill="#161616" stroke="#161616" stroke-width="0.18">2° transplantation (2 × 10<tspan dy="-3.4" font-size="6.6">6</tspan><tspan dy="3.4"> 1° BM)</tspan></text>
<line x1="285.90" y1="418.50" x2="285.90" y2="565.60" stroke="#222" stroke-width="1.05"/>
<line x1="282.80" y1="562.50" x2="285.90" y2="562.50" stroke="#222" stroke-width="1"/>
<text x="280.00" y="565.70" font-size="8.18" text-anchor="end" fill="#161616" stroke="#161616" stroke-width="0.28" textLength="4.90" lengthAdjust="spacingAndGlyphs">0</text>
<line x1="282.80" y1="534.50" x2="285.90" y2="534.50" stroke="#222" stroke-width="1"/>
<text x="280.00" y="537.07" font-size="8.18" text-anchor="end" fill="#161616" stroke="#161616" stroke-width="0.28" textLength="9.00" lengthAdjust="spacingAndGlyphs">20</text>
<line x1="282.80" y1="505.50" x2="285.90" y2="505.50" stroke="#222" stroke-width="1"/>
<text x="280.00" y="508.44" font-size="8.18" text-anchor="end" fill="#161616" stroke="#161616" stroke-width="0.28" textLength="9.00" lengthAdjust="spacingAndGlyphs">40</text>
<line x1="282.80" y1="476.50" x2="285.90" y2="476.50" stroke="#222" stroke-width="1"/>
<text x="280.00" y="479.81" font-size="8.18" text-anchor="end" fill="#161616" stroke="#161616" stroke-width="0.28" textLength="9.00" lengthAdjust="spacingAndGlyphs">60</text>
<line x1="282.80" y1="448.50" x2="285.90" y2="448.50" stroke="#222" stroke-width="1"/>
<text x="280.00" y="451.18" font-size="8.18" text-anchor="end" fill="#161616" stroke="#161616" stroke-width="0.28" textLength="9.00" lengthAdjust="spacingAndGlyphs">80</text>
<line x1="282.80" y1="419.50" x2="285.90" y2="419.50" stroke="#222" stroke-width="1"/>
<text x="280.00" y="422.55" font-size="8.18" text-anchor="end" fill="#161616" stroke="#161616" stroke-width="0.28" textLength="13.10" lengthAdjust="spacingAndGlyphs">100</text>
<text x="261.00" y="491.20" font-size="9.26" text-anchor="middle" fill="#161616" stroke="#161616" stroke-width="0.22" textLength="84.32" lengthAdjust="spacingAndGlyphs" transform="rotate(-90 261.00 491.20)">Donor chimerism (%)</text>
<circle cx="429.00" cy="426.50" r="2.10" fill="#c4c4c4" stroke="none" stroke-width="1"/>
<text x="434.60" y="429.10" font-size="7.74" text-anchor="start" fill="#161616" stroke="#161616" stroke-width="0.28" textLength="24.25" lengthAdjust="spacingAndGlyphs">Control</text>
<circle cx="429.00" cy="435.50" r="2.10" fill="#2a3b6a" stroke="none" stroke-width="1"/>
<text x="434.60" y="437.50" font-size="7.74" text-anchor="start" fill="#161616" stroke="#161616" stroke-width="0.28" textLength="57.45" lengthAdjust="spacingAndGlyphs">IFN-α 0.05ng/mL</text>
<circle cx="429.00" cy="444.50" r="2.10" fill="#8e1028" stroke="none" stroke-width="1"/>
<text x="434.60" y="447.10" font-size="7.74" text-anchor="start" fill="#161616" stroke="#161616" stroke-width="0.28" textLength="53.15" lengthAdjust="spacingAndGlyphs">IFN-α 0.5ng/mL</text>
<line x1="293.00" y1="459.50" x2="414.20" y2="459.50" stroke="#222" stroke-width="1"/>
<line x1="432.50" y1="455.50" x2="479.60" y2="455.50" stroke="#222" stroke-width="1"/>
<path d="M351.5,459.5 L351.5,452.5 L456.5,452.5 L456.5,455.5" fill="none" stroke="#222" stroke-width="1"/>
<circle cx="404.20" cy="448.90" r="1.15" fill="#111" stroke="none" stroke-width="1"/>
<line x1="298.10" y1="504.90" x2="298.10" y2="508.90" stroke="#000" stroke-width="1.35" stroke-dasharray="1.3,0.9"/>
<line x1="295.10" y1="504.90" x2="301.10" y2="504.90" stroke="#111" stroke-width="1.2"/>
<line x1="298.10" y1="536.50" x2="298.10" y2="554.90" stroke="#000" stroke-width="1.35" stroke-dasharray="1.3,0.9"/>
<line x1="295.10" y1="554.90" x2="301.10" y2="554.90" stroke="#111" stroke-width="1.2"/>
<rect x="292.70" y="508.90" width="10.80" height="27.60" fill="#c6c6ca"/>
<line x1="292.70" y1="527.00" x2="303.50" y2="527.00" stroke="#111" stroke-width="1.5"/>
<line x1="311.90" y1="556.80" x2="311.90" y2="560.30" stroke="#000" stroke-width="1.35" stroke-dasharray="1.3,0.9"/>
<line x1="308.90" y1="560.30" x2="314.90" y2="560.30" stroke="#111" stroke-width="1.2"/>
<rect x="306.20" y="526.50" width="11.40" height="30.30" fill="#c6c6ca"/>
<line x1="306.20" y1="545.40" x2="317.60" y2="545.40" stroke="#111" stroke-width="1.5"/>
<circle cx="311.90" cy="475.10" r="1.50" fill="#555" stroke="#1a1a1a" stroke-width="0.95"/>
<line x1="325.40" y1="473.80" x2="325.40" y2="521.60" stroke="#000" stroke-width="1.35" stroke-dasharray="1.3,0.9"/>
<line x1="322.40" y1="473.80" x2="328.40" y2="473.80" stroke="#111" stroke-width="1.2"/>
<line x1="325.40" y1="559.50" x2="325.40" y2="561.00" stroke="#000" stroke-width="1.35" stroke-dasharray="1.3,0.9"/>
<line x1="322.40" y1="561.00" x2="328.40" y2="561.00" stroke="#111" stroke-width="1.2"/>
<rect x="319.70" y="521.60" width="11.40" height="37.90" fill="#c6c6ca"/>
<line x1="319.70" y1="548.60" x2="331.10" y2="548.60" stroke="#111" stroke-width="1.5"/>
<line x1="339.45" y1="461.60" x2="339.45" y2="498.60" stroke="#000" stroke-width="1.35" stroke-dasharray="1.3,0.9"/>
<line x1="336.45" y1="461.60" x2="342.45" y2="461.60" stroke="#111" stroke-width="1.2"/>
<rect x="333.80" y="498.60" width="11.30" height="61.70" fill="#c6c6ca"/>
<line x1="333.80" y1="554.90" x2="345.10" y2="554.90" stroke="#111" stroke-width="1.5"/>
<line x1="367.60" y1="531.90" x2="367.60" y2="537.30" stroke="#000" stroke-width="1.35" stroke-dasharray="1.3,0.9"/>
<line x1="364.60" y1="531.90" x2="370.60" y2="531.90" stroke="#111" stroke-width="1.2"/>
<line x1="367.60" y1="554.90" x2="367.60" y2="555.50" stroke="#000" stroke-width="1.35" stroke-dasharray="1.3,0.9"/>
<line x1="364.60" y1="555.50" x2="370.60" y2="555.50" stroke="#111" stroke-width="1.2"/>
<rect x="362.20" y="537.30" width="10.80" height="17.60" fill="#27407c" stroke="#1c2d5c" stroke-width="0.6"/>
<line x1="362.20" y1="547.60" x2="373.00" y2="547.60" stroke="#111" stroke-width="1.5"/>
<line x1="381.10" y1="527.80" x2="381.10" y2="529.20" stroke="#000" stroke-width="1.35" stroke-dasharray="1.3,0.9"/>
<line x1="378.10" y1="527.80" x2="384.10" y2="527.80" stroke="#111" stroke-width="1.2"/>
<line x1="381.10" y1="554.00" x2="381.10" y2="558.10" stroke="#000" stroke-width="1.35" stroke-dasharray="1.3,0.9"/>
<line x1="378.10" y1="558.10" x2="384.10" y2="558.10" stroke="#111" stroke-width="1.2"/>
<rect x="375.70" y="529.20" width="10.80" height="24.80" fill="#27407c" stroke="#1c2d5c" stroke-width="0.6"/>
<line x1="375.70" y1="540.00" x2="386.50" y2="540.00" stroke="#111" stroke-width="1.5"/>
<line x1="395.15" y1="500.80" x2="395.15" y2="515.70" stroke="#000" stroke-width="1.35" stroke-dasharray="1.3,0.9"/>
<line x1="392.15" y1="500.80" x2="398.15" y2="500.80" stroke="#111" stroke-width="1.2"/>
<line x1="395.15" y1="554.90" x2="395.15" y2="557.60" stroke="#000" stroke-width="1.35" stroke-dasharray="1.3,0.9"/>
<line x1="392.15" y1="557.60" x2="398.15" y2="557.60" stroke="#111" stroke-width="1.2"/>
<rect x="389.50" y="515.70" width="11.30" height="39.20" fill="#27407c" stroke="#1c2d5c" stroke-width="0.6"/>
<line x1="389.50" y1="540.80" x2="400.80" y2="540.80" stroke="#111" stroke-width="1.5"/>
<line x1="408.65" y1="464.90" x2="408.65" y2="498.90" stroke="#000" stroke-width="1.35" stroke-dasharray="1.3,0.9"/>
<line x1="405.65" y1="464.90" x2="411.65" y2="464.90" stroke="#111" stroke-width="1.2"/>
<line x1="408.65" y1="556.80" x2="408.65" y2="560.80" stroke="#000" stroke-width="1.35" stroke-dasharray="1.3,0.9"/>
<line x1="405.65" y1="560.80" x2="411.65" y2="560.80" stroke="#111" stroke-width="1.2"/>
<rect x="403.00" y="498.90" width="11.30" height="57.90" fill="#27407c" stroke="#1c2d5c" stroke-width="0.6"/>
<line x1="403.00" y1="542.70" x2="414.30" y2="542.70" stroke="#111" stroke-width="1.5"/>
<line x1="436.50" y1="508.40" x2="436.50" y2="513.50" stroke="#000" stroke-width="1.35" stroke-dasharray="1.3,0.9"/>
<line x1="433.50" y1="508.40" x2="439.50" y2="508.40" stroke="#111" stroke-width="1.2"/>
<line x1="436.50" y1="528.60" x2="436.50" y2="545.40" stroke="#000" stroke-width="1.35" stroke-dasharray="1.3,0.9"/>
<line x1="433.50" y1="545.40" x2="439.50" y2="545.40" stroke="#111" stroke-width="1.2"/>
<rect x="430.80" y="513.50" width="11.40" height="15.10" fill="#ad062f" stroke="#7c0622" stroke-width="0.6"/>
<line x1="430.80" y1="517.00" x2="442.20" y2="517.00" stroke="#3a0410" stroke-width="1.5"/>
<line x1="450.00" y1="510.30" x2="450.00" y2="511.60" stroke="#000" stroke-width="1.35" stroke-dasharray="1.3,0.9"/>
<line x1="447.00" y1="510.30" x2="453.00" y2="510.30" stroke="#111" stroke-width="1.2"/>
<rect x="444.30" y="511.60" width="11.40" height="8.70" fill="#ad062f" stroke="#7c0622" stroke-width="0.6"/>
<line x1="444.30" y1="515.70" x2="455.70" y2="515.70" stroke="#3a0410" stroke-width="1.5"/>
<circle cx="450.80" cy="545.40" r="1.30" fill="#111" stroke="none" stroke-width="1"/>
<line x1="464.00" y1="502.70" x2="464.00" y2="503.50" stroke="#000" stroke-width="1.35" stroke-dasharray="1.3,0.9"/>
<line x1="461.00" y1="502.70" x2="467.00" y2="502.70" stroke="#111" stroke-width="1.2"/>
<line x1="464.00" y1="530.50" x2="464.00" y2="542.20" stroke="#000" stroke-width="1.35" stroke-dasharray="1.3,0.9"/>
<line x1="461.00" y1="542.20" x2="467.00" y2="542.20" stroke="#111" stroke-width="1.2"/>
<rect x="458.35" y="503.50" width="11.30" height="27.00" fill="#ad062f" stroke="#7c0622" stroke-width="0.6"/>
<line x1="458.35" y1="517.00" x2="469.65" y2="517.00" stroke="#3a0410" stroke-width="1.5"/>
<line x1="477.70" y1="489.50" x2="477.70" y2="496.80" stroke="#000" stroke-width="1.35" stroke-dasharray="1.3,0.9"/>
<line x1="474.70" y1="489.50" x2="480.70" y2="489.50" stroke="#111" stroke-width="1.2"/>
<line x1="477.70" y1="529.70" x2="477.70" y2="550.80" stroke="#000" stroke-width="1.35" stroke-dasharray="1.3,0.9"/>
<line x1="474.70" y1="550.80" x2="480.70" y2="550.80" stroke="#111" stroke-width="1.2"/>
<rect x="471.90" y="496.80" width="11.60" height="32.90" fill="#ad062f" stroke="#7c0622" stroke-width="0.6"/>
<line x1="471.90" y1="501.40" x2="483.50" y2="501.40" stroke="#3a0410" stroke-width="1.5"/>
<line x1="293.80" y1="568.50" x2="481.40" y2="568.50" stroke="#222" stroke-width="1"/>
<line x1="298.50" y1="568.40" x2="298.50" y2="571.80" stroke="#222" stroke-width="1"/>
<text x="298.10" y="581.50" font-size="7.0" text-anchor="middle" fill="#161616" stroke="#161616" stroke-width="0.28">4</text>
<line x1="311.50" y1="568.40" x2="311.50" y2="571.80" stroke="#222" stroke-width="1"/>
<text x="311.90" y="581.50" font-size="7.0" text-anchor="middle" fill="#161616" stroke="#161616" stroke-width="0.28">8</text>
<line x1="325.50" y1="568.40" x2="325.50" y2="571.80" stroke="#222" stroke-width="1"/>
<text x="325.40" y="581.50" font-size="7.0" text-anchor="middle" fill="#161616" stroke="#161616" stroke-width="0.28">12</text>
<line x1="339.50" y1="568.40" x2="339.50" y2="571.80" stroke="#222" stroke-width="1"/>
<text x="339.45" y="581.50" font-size="7.0" text-anchor="middle" fill="#161616" stroke="#161616" stroke-width="0.28">16</text>
<line x1="367.50" y1="568.40" x2="367.50" y2="571.80" stroke="#222" stroke-width="1"/>
<text x="367.60" y="581.50" font-size="7.0" text-anchor="middle" fill="#161616" stroke="#161616" stroke-width="0.28">4</text>
<line x1="381.50" y1="568.40" x2="381.50" y2="571.80" stroke="#222" stroke-width="1"/>
<text x="381.10" y="581.50" font-size="7.0" text-anchor="middle" fill="#161616" stroke="#161616" stroke-width="0.28">8</text>
<line x1="395.50" y1="568.40" x2="395.50" y2="571.80" stroke="#222" stroke-width="1"/>
<text x="395.15" y="581.50" font-size="7.0" text-anchor="middle" fill="#161616" stroke="#161616" stroke-width="0.28">12</text>
<line x1="408.50" y1="568.40" x2="408.50" y2="571.80" stroke="#222" stroke-width="1"/>
<text x="408.65" y="581.50" font-size="7.0" text-anchor="middle" fill="#161616" stroke="#161616" stroke-width="0.28">16</text>
<line x1="436.50" y1="568.40" x2="436.50" y2="571.80" stroke="#222" stroke-width="1"/>
<text x="436.50" y="581.50" font-size="7.0" text-anchor="middle" fill="#161616" stroke="#161616" stroke-width="0.28">4</text>
<line x1="450.50" y1="568.40" x2="450.50" y2="571.80" stroke="#222" stroke-width="1"/>
<text x="450.00" y="581.50" font-size="7.0" text-anchor="middle" fill="#161616" stroke="#161616" stroke-width="0.28">8</text>
<line x1="464.50" y1="568.40" x2="464.50" y2="571.80" stroke="#222" stroke-width="1"/>
<text x="464.00" y="581.50" font-size="7.0" text-anchor="middle" fill="#161616" stroke="#161616" stroke-width="0.28">12</text>
<line x1="477.50" y1="568.40" x2="477.50" y2="571.80" stroke="#222" stroke-width="1"/>
<text x="477.70" y="581.50" font-size="7.0" text-anchor="middle" fill="#161616" stroke="#161616" stroke-width="0.28">16</text>
<text x="376.20" y="594.90" font-size="8.61" text-anchor="start" fill="#161616" stroke="#161616" stroke-width="0.22" textLength="24.55" lengthAdjust="spacingAndGlyphs">Weeks</text>
<rect x="0.5" y="0.5" width="519" height="602" fill="none" stroke="#000" stroke-width="1.2"/>
</svg></body></html>
